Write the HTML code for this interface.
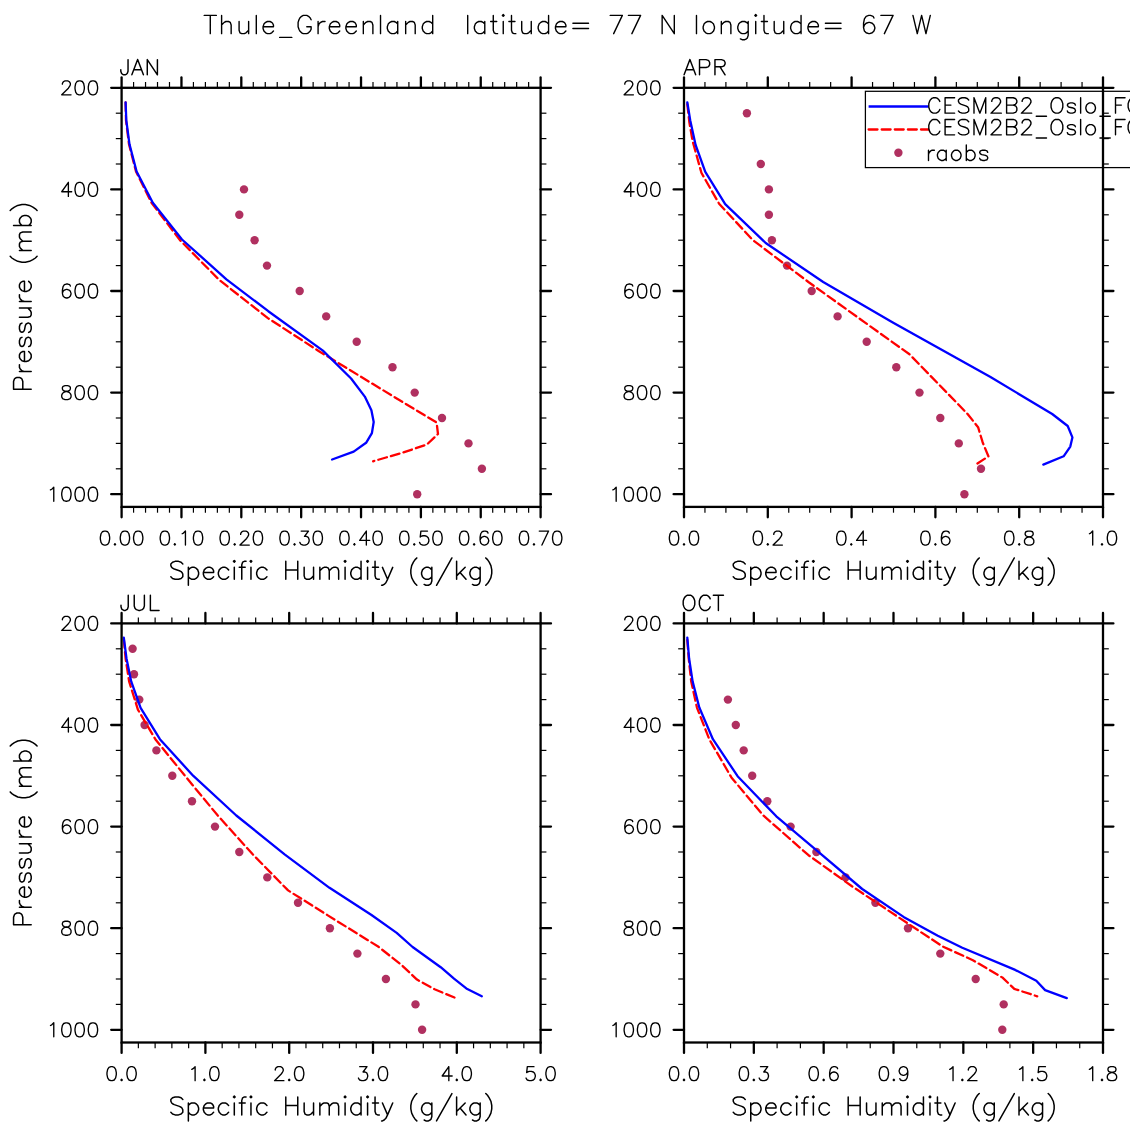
<!DOCTYPE html>
<html><head><meta charset="utf-8"><title>Thule Greenland specific humidity</title>
<style>html,body{margin:0;padding:0;background:#fff;font-family:"Liberation Sans",sans-serif}svg{display:block}</style>
</head><body>
<svg width="1135" height="1135" viewBox="0 0 1135 1135">
<defs><clipPath id="cl"><rect x="0" y="0" width="1130" height="1135"/></clipPath></defs>
<rect width="1135" height="1135" fill="#fff"/>
<g clip-path="url(#cl)">
<path d="M210.28 15.42 L210.28 33.65 M204.2 15.42 L216.35 15.42 M221.61 15.42 L221.61 33.65 M221.61 24.97 L224.21 22.37 L225.95 21.5 L228.55 21.5 L230.29 22.37 L231.16 24.97 L231.16 33.65 M239.09 21.5 L239.09 30.18 L239.96 32.78 L241.7 33.65 L244.3 33.65 L246.04 32.78 L248.64 30.18 M248.64 21.5 L248.64 33.65 M256.29 15.42 L256.29 33.65 M263.05 26.71 L273.46 26.71 L273.46 24.97 L272.59 23.23 L271.73 22.37 L269.99 21.5 L267.39 21.5 L265.65 22.37 L263.91 24.1 L263.05 26.71 L263.05 28.44 L263.91 31.05 L265.65 32.78 L267.39 33.65 L269.99 33.65 L271.73 32.78 L273.46 31.05 M279.66 37.38 L291.82 37.38 M311.12 19.76 L310.25 18.03 L308.51 16.29 L306.78 15.42 L303.3 15.42 L301.57 16.29 L299.83 18.03 L298.96 19.76 L298.1 22.37 L298.1 26.71 L298.96 29.31 L299.83 31.05 L301.57 32.78 L303.3 33.65 L306.78 33.65 L308.51 32.78 L310.25 31.05 L311.12 29.31 L311.12 26.71 M306.78 26.71 L311.12 26.71 M318.08 21.5 L318.08 33.65 M318.08 26.71 L318.95 24.1 L320.69 22.37 L322.42 21.5 L325.03 21.5 M329.31 26.71 L339.72 26.71 L339.72 24.97 L338.86 23.23 L337.99 22.37 L336.25 21.5 L333.65 21.5 L331.91 22.37 L330.18 24.1 L329.31 26.71 L329.31 28.44 L330.18 31.05 L331.91 32.78 L333.65 33.65 L336.25 33.65 L337.99 32.78 L339.72 31.05 M345.87 26.71 L356.29 26.71 L356.29 24.97 L355.42 23.23 L354.55 22.37 L352.82 21.5 L350.21 21.5 L348.48 22.37 L346.74 24.1 L345.87 26.71 L345.87 28.44 L346.74 31.05 L348.48 32.78 L350.21 33.65 L352.82 33.65 L354.55 32.78 L356.29 31.05 M363.33 21.5 L363.33 33.65 M363.33 24.97 L365.94 22.37 L367.67 21.5 L370.28 21.5 L372.01 22.37 L372.88 24.97 L372.88 33.65 M380.53 15.42 L380.53 33.65 M397.73 21.5 L397.73 33.65 M397.73 24.1 L395.99 22.37 L394.26 21.5 L391.65 21.5 L389.92 22.37 L388.18 24.1 L387.31 26.71 L387.31 28.44 L388.18 31.05 L389.92 32.78 L391.65 33.65 L394.26 33.65 L395.99 32.78 L397.73 31.05 M405.67 21.5 L405.67 33.65 M405.67 24.97 L408.27 22.37 L410.01 21.5 L412.61 21.5 L414.35 22.37 L415.21 24.97 L415.21 33.65 M432.7 15.42 L432.7 33.65 M432.7 24.1 L430.96 22.37 L429.23 21.5 L426.62 21.5 L424.89 22.37 L423.15 24.1 L422.28 26.71 L422.28 28.44 L423.15 31.05 L424.89 32.78 L426.62 33.65 L429.23 33.65 L430.96 32.78 L432.7 31.05" fill="none" stroke="#000" stroke-width="1.4" stroke-linecap="round" stroke-linejoin="round"/>
<path d="M467.7 15.42 L467.7 33.65 M484.78 21.5 L484.78 33.65 M484.78 24.1 L483.04 22.37 L481.31 21.5 L478.7 21.5 L476.97 22.37 L475.23 24.1 L474.36 26.71 L474.36 28.44 L475.23 31.05 L476.97 32.78 L478.7 33.65 L481.31 33.65 L483.04 32.78 L484.78 31.05 M493.27 15.42 L493.27 30.18 L494.13 32.78 L495.87 33.65 L497.61 33.65 M490.66 21.5 L496.74 21.5 M502.38 15.42 L503.25 16.29 L504.12 15.42 L503.25 14.55 L502.38 15.42 M503.25 21.5 L503.25 33.65 M511.49 15.42 L511.49 30.18 L512.36 32.78 L514.1 33.65 L515.83 33.65 M508.89 21.5 L514.97 21.5 M521.72 21.5 L521.72 30.18 L522.58 32.78 L524.32 33.65 L526.92 33.65 L528.66 32.78 L531.26 30.18 M531.26 21.5 L531.26 33.65 M548.58 15.42 L548.58 33.65 M548.58 24.1 L546.85 22.37 L545.11 21.5 L542.51 21.5 L540.77 22.37 L539.04 24.1 L538.17 26.71 L538.17 28.44 L539.04 31.05 L540.77 32.78 L542.51 33.65 L545.11 33.65 L546.85 32.78 L548.58 31.05 M555.46 26.71 L565.88 26.71 L565.88 24.97 L565.01 23.23 L564.14 22.37 L562.41 21.5 L559.8 21.5 L558.07 22.37 L556.33 24.1 L555.46 26.71 L555.46 28.44 L556.33 31.05 L558.07 32.78 L559.8 33.65 L562.41 33.65 L564.14 32.78 L565.88 31.05 M572.91 23.23 L588.54 23.23 M572.91 28.44 L588.54 28.44 M622.35 15.42 L613.67 33.65 M610.2 15.42 L622.35 15.42 M640.58 15.42 L631.9 33.65 M628.43 15.42 L640.58 15.42 M662.15 15.42 L662.15 33.65 M662.15 15.42 L674.3 33.65 M674.3 15.42 L674.3 33.65 M696.48 15.42 L696.48 33.65 M707.49 21.5 L705.75 22.37 L704.01 24.1 L703.15 26.71 L703.15 28.44 L704.01 31.05 L705.75 32.78 L707.49 33.65 L710.09 33.65 L711.83 32.78 L713.56 31.05 L714.43 28.44 L714.43 26.71 L713.56 24.1 L711.83 22.37 L710.09 21.5 L707.49 21.5 M721.33 21.5 L721.33 33.65 M721.33 24.97 L723.94 22.37 L725.67 21.5 L728.28 21.5 L730.01 22.37 L730.88 24.97 L730.88 33.65 M748.2 21.5 L748.2 35.39 L747.33 37.99 L746.46 38.86 L744.73 39.73 L742.12 39.73 L740.39 38.86 M748.2 24.1 L746.46 22.37 L744.73 21.5 L742.12 21.5 L740.39 22.37 L738.65 24.1 L737.78 26.71 L737.78 28.44 L738.65 31.05 L740.39 32.78 L742.12 33.65 L744.73 33.65 L746.46 32.78 L748.2 31.05 M754.86 15.42 L755.73 16.29 L756.6 15.42 L755.73 14.55 L754.86 15.42 M755.73 21.5 L755.73 33.65 M763.98 15.42 L763.98 30.18 L764.84 32.78 L766.58 33.65 L768.32 33.65 M761.37 21.5 L767.45 21.5 M774.2 21.5 L774.2 30.18 L775.07 32.78 L776.8 33.65 L779.41 33.65 L781.14 32.78 L783.75 30.18 M783.75 21.5 L783.75 33.65 M801.06 15.42 L801.06 33.65 M801.06 24.1 L799.33 22.37 L797.59 21.5 L794.99 21.5 L793.25 22.37 L791.52 24.1 L790.65 26.71 L790.65 28.44 L791.52 31.05 L793.25 32.78 L794.99 33.65 L797.59 33.65 L799.33 32.78 L801.06 31.05 M807.95 26.71 L818.36 26.71 L818.36 24.97 L817.49 23.23 L816.63 22.37 L814.89 21.5 L812.29 21.5 L810.55 22.37 L808.81 24.1 L807.95 26.71 L807.95 28.44 L808.81 31.05 L810.55 32.78 L812.29 33.65 L814.89 33.65 L816.63 32.78 L818.36 31.05 M825.39 23.23 L841.02 23.23 M825.39 28.44 L841.02 28.44 M873.96 18.03 L873.09 16.29 L870.49 15.42 L868.75 15.42 L866.15 16.29 L864.41 18.89 L863.55 23.23 L863.55 27.57 L864.41 31.05 L866.15 32.78 L868.75 33.65 L869.62 33.65 L872.23 32.78 L873.96 31.05 L874.83 28.44 L874.83 27.57 L873.96 24.97 L872.23 23.23 L869.62 22.37 L868.75 22.37 L866.15 23.23 L864.41 24.97 L863.55 27.57 M893.06 15.42 L884.38 33.65 M880.91 15.42 L893.06 15.42 M912.94 15.42 L917.28 33.65 M921.62 15.42 L917.28 33.65 M921.62 15.42 L925.96 33.65 M930.3 15.42 L925.96 33.65" fill="none" stroke="#000" stroke-width="1.4" stroke-linecap="round" stroke-linejoin="round"/>
<circle cx="244" cy="189.4" r="4.2" fill="#b03060"/>
<circle cx="239.3" cy="214.8" r="4.2" fill="#b03060"/>
<circle cx="254.6" cy="240.2" r="4.2" fill="#b03060"/>
<circle cx="267" cy="265.6" r="4.2" fill="#b03060"/>
<circle cx="299.7" cy="291" r="4.2" fill="#b03060"/>
<circle cx="326.2" cy="316.4" r="4.2" fill="#b03060"/>
<circle cx="356.7" cy="341.8" r="4.2" fill="#b03060"/>
<circle cx="392.5" cy="367.2" r="4.2" fill="#b03060"/>
<circle cx="414.7" cy="392.6" r="4.2" fill="#b03060"/>
<circle cx="442" cy="418" r="4.2" fill="#b03060"/>
<circle cx="468.5" cy="443.4" r="4.2" fill="#b03060"/>
<circle cx="481.9" cy="468.8" r="4.2" fill="#b03060"/>
<circle cx="417.2" cy="494.2" r="4.2" fill="#b03060"/>
<polyline points="125.6,102.4 126,120.3 129,144.3 136,171.5 151.5,202.8 180.3,240.5 219.3,280 267.9,318.1 319,351.2 363.8,378.5 393.7,396.6 416.1,410.2 436.6,422.5 438,434 426.9,444.5 403.1,452.5 373.1,461.3" fill="none" stroke="#f00" stroke-width="2.3" stroke-dasharray="8.9 4.2" stroke-linecap="round" stroke-linejoin="round"/>
<polyline points="125.6,102.4 126.3,120.3 129.5,144.3 136.6,171.5 152.8,202.8 182,239.5 226.4,279.3 268.3,311.2 322.9,350.6 351.1,378.5 364.8,396.6 371.4,410.2 373.7,422 371.9,433.1 366.1,442.8 353.7,451.6 332.1,459.5" fill="none" stroke="#00f" stroke-width="2.3" stroke-linecap="round" stroke-linejoin="round"/>
<rect x="121.6" y="87.8" width="419" height="419.1" fill="none" stroke="#000" stroke-width="2.3"/>
<line x1="111.2" y1="87.8" x2="121.6" y2="87.8" stroke="#000" stroke-width="2.3" stroke-linecap="round"/>
<line x1="540.6" y1="87.8" x2="551" y2="87.8" stroke="#000" stroke-width="2.3" stroke-linecap="round"/>
<path d="M62.39 84.16 L62.39 83.5 L63.06 82.16 L63.72 81.5 L65.05 80.83 L67.71 80.83 L69.04 81.5 L69.71 82.16 L70.37 83.5 L70.37 84.82 L69.71 86.16 L68.38 88.15 L61.73 94.8 L71.04 94.8 M79 80.83 L77 81.5 L75.67 83.5 L75.01 86.82 L75.01 88.81 L75.67 92.14 L77 94.13 L79 94.8 L80.33 94.8 L82.32 94.13 L83.66 92.14 L84.32 88.81 L84.32 86.82 L83.66 83.5 L82.32 81.5 L80.33 80.83 L79 80.83 M92.28 80.83 L90.28 81.5 L88.95 83.5 L88.29 86.82 L88.29 88.81 L88.95 92.14 L90.28 94.13 L92.28 94.8 L93.61 94.8 L95.6 94.13 L96.94 92.14 L97.6 88.81 L97.6 86.82 L96.94 83.5 L95.6 81.5 L93.61 80.83 L92.28 80.83" fill="none" stroke="#000" stroke-width="1.35" stroke-linecap="round" stroke-linejoin="round"/>
<line x1="115.8" y1="113.2" x2="121.6" y2="113.2" stroke="#000" stroke-width="1.2" stroke-linecap="butt"/>
<line x1="540.6" y1="113.2" x2="546.4" y2="113.2" stroke="#000" stroke-width="1.2" stroke-linecap="butt"/>
<line x1="115.8" y1="138.6" x2="121.6" y2="138.6" stroke="#000" stroke-width="1.2" stroke-linecap="butt"/>
<line x1="540.6" y1="138.6" x2="546.4" y2="138.6" stroke="#000" stroke-width="1.2" stroke-linecap="butt"/>
<line x1="115.8" y1="164" x2="121.6" y2="164" stroke="#000" stroke-width="1.2" stroke-linecap="butt"/>
<line x1="540.6" y1="164" x2="546.4" y2="164" stroke="#000" stroke-width="1.2" stroke-linecap="butt"/>
<line x1="111.2" y1="189.4" x2="121.6" y2="189.4" stroke="#000" stroke-width="2.3" stroke-linecap="round"/>
<line x1="540.6" y1="189.4" x2="551" y2="189.4" stroke="#000" stroke-width="2.3" stroke-linecap="round"/>
<path d="M68.38 182.43 L61.73 191.74 L71.7 191.74 M68.38 182.43 L68.38 196.4 M79 182.43 L77 183.1 L75.67 185.09 L75.01 188.42 L75.01 190.41 L75.67 193.74 L77 195.73 L79 196.4 L80.33 196.4 L82.32 195.73 L83.66 193.74 L84.32 190.41 L84.32 188.42 L83.66 185.09 L82.32 183.1 L80.33 182.43 L79 182.43 M92.28 182.43 L90.28 183.1 L88.95 185.09 L88.29 188.42 L88.29 190.41 L88.95 193.74 L90.28 195.73 L92.28 196.4 L93.61 196.4 L95.6 195.73 L96.94 193.74 L97.6 190.41 L97.6 188.42 L96.94 185.09 L95.6 183.1 L93.61 182.43 L92.28 182.43" fill="none" stroke="#000" stroke-width="1.35" stroke-linecap="round" stroke-linejoin="round"/>
<line x1="115.8" y1="214.8" x2="121.6" y2="214.8" stroke="#000" stroke-width="1.2" stroke-linecap="butt"/>
<line x1="540.6" y1="214.8" x2="546.4" y2="214.8" stroke="#000" stroke-width="1.2" stroke-linecap="butt"/>
<line x1="115.8" y1="240.2" x2="121.6" y2="240.2" stroke="#000" stroke-width="1.2" stroke-linecap="butt"/>
<line x1="540.6" y1="240.2" x2="546.4" y2="240.2" stroke="#000" stroke-width="1.2" stroke-linecap="butt"/>
<line x1="115.8" y1="265.6" x2="121.6" y2="265.6" stroke="#000" stroke-width="1.2" stroke-linecap="butt"/>
<line x1="540.6" y1="265.6" x2="546.4" y2="265.6" stroke="#000" stroke-width="1.2" stroke-linecap="butt"/>
<line x1="111.2" y1="291" x2="121.6" y2="291" stroke="#000" stroke-width="2.3" stroke-linecap="round"/>
<line x1="540.6" y1="291" x2="551" y2="291" stroke="#000" stroke-width="2.3" stroke-linecap="round"/>
<path d="M70.37 286.03 L69.71 284.7 L67.71 284.04 L66.38 284.04 L64.39 284.7 L63.06 286.69 L62.39 290.02 L62.39 293.35 L63.06 296 L64.39 297.33 L66.38 298 L67.05 298 L69.04 297.33 L70.37 296 L71.04 294.01 L71.04 293.35 L70.37 291.35 L69.04 290.02 L67.05 289.36 L66.38 289.36 L64.39 290.02 L63.06 291.35 L62.39 293.35 M79 284.04 L77 284.7 L75.67 286.69 L75.01 290.02 L75.01 292.01 L75.67 295.34 L77 297.33 L79 298 L80.33 298 L82.32 297.33 L83.66 295.34 L84.32 292.01 L84.32 290.02 L83.66 286.69 L82.32 284.7 L80.33 284.04 L79 284.04 M92.28 284.04 L90.28 284.7 L88.95 286.69 L88.29 290.02 L88.29 292.01 L88.95 295.34 L90.28 297.33 L92.28 298 L93.61 298 L95.6 297.33 L96.94 295.34 L97.6 292.01 L97.6 290.02 L96.94 286.69 L95.6 284.7 L93.61 284.04 L92.28 284.04" fill="none" stroke="#000" stroke-width="1.35" stroke-linecap="round" stroke-linejoin="round"/>
<line x1="115.8" y1="316.4" x2="121.6" y2="316.4" stroke="#000" stroke-width="1.2" stroke-linecap="butt"/>
<line x1="540.6" y1="316.4" x2="546.4" y2="316.4" stroke="#000" stroke-width="1.2" stroke-linecap="butt"/>
<line x1="115.8" y1="341.8" x2="121.6" y2="341.8" stroke="#000" stroke-width="1.2" stroke-linecap="butt"/>
<line x1="540.6" y1="341.8" x2="546.4" y2="341.8" stroke="#000" stroke-width="1.2" stroke-linecap="butt"/>
<line x1="115.8" y1="367.2" x2="121.6" y2="367.2" stroke="#000" stroke-width="1.2" stroke-linecap="butt"/>
<line x1="540.6" y1="367.2" x2="546.4" y2="367.2" stroke="#000" stroke-width="1.2" stroke-linecap="butt"/>
<line x1="111.2" y1="392.6" x2="121.6" y2="392.6" stroke="#000" stroke-width="2.3" stroke-linecap="round"/>
<line x1="540.6" y1="392.6" x2="551" y2="392.6" stroke="#000" stroke-width="2.3" stroke-linecap="round"/>
<path d="M65.05 385.64 L63.06 386.3 L62.39 387.63 L62.39 388.96 L63.06 390.29 L64.39 390.96 L67.05 391.62 L69.04 392.29 L70.37 393.62 L71.04 394.95 L71.04 396.94 L70.37 398.27 L69.71 398.94 L67.71 399.6 L65.05 399.6 L63.06 398.94 L62.39 398.27 L61.73 396.94 L61.73 394.95 L62.39 393.62 L63.72 392.29 L65.72 391.62 L68.38 390.96 L69.71 390.29 L70.37 388.96 L70.37 387.63 L69.71 386.3 L67.71 385.64 L65.05 385.64 M79 385.64 L77 386.3 L75.67 388.3 L75.01 391.62 L75.01 393.62 L75.67 396.94 L77 398.94 L79 399.6 L80.33 399.6 L82.32 398.94 L83.66 396.94 L84.32 393.62 L84.32 391.62 L83.66 388.3 L82.32 386.3 L80.33 385.64 L79 385.64 M92.28 385.64 L90.28 386.3 L88.95 388.3 L88.29 391.62 L88.29 393.62 L88.95 396.94 L90.28 398.94 L92.28 399.6 L93.61 399.6 L95.6 398.94 L96.94 396.94 L97.6 393.62 L97.6 391.62 L96.94 388.3 L95.6 386.3 L93.61 385.64 L92.28 385.64" fill="none" stroke="#000" stroke-width="1.35" stroke-linecap="round" stroke-linejoin="round"/>
<line x1="115.8" y1="418" x2="121.6" y2="418" stroke="#000" stroke-width="1.2" stroke-linecap="butt"/>
<line x1="540.6" y1="418" x2="546.4" y2="418" stroke="#000" stroke-width="1.2" stroke-linecap="butt"/>
<line x1="115.8" y1="443.4" x2="121.6" y2="443.4" stroke="#000" stroke-width="1.2" stroke-linecap="butt"/>
<line x1="540.6" y1="443.4" x2="546.4" y2="443.4" stroke="#000" stroke-width="1.2" stroke-linecap="butt"/>
<line x1="115.8" y1="468.8" x2="121.6" y2="468.8" stroke="#000" stroke-width="1.2" stroke-linecap="butt"/>
<line x1="540.6" y1="468.8" x2="546.4" y2="468.8" stroke="#000" stroke-width="1.2" stroke-linecap="butt"/>
<line x1="111.2" y1="494.2" x2="121.6" y2="494.2" stroke="#000" stroke-width="2.3" stroke-linecap="round"/>
<line x1="540.6" y1="494.2" x2="551" y2="494.2" stroke="#000" stroke-width="2.3" stroke-linecap="round"/>
<path d="M50.44 489.89 L51.77 489.23 L53.77 487.24 L53.77 501.2 M65.72 487.24 L63.72 487.9 L62.39 489.89 L61.73 493.22 L61.73 495.21 L62.39 498.54 L63.72 500.53 L65.72 501.2 L67.05 501.2 L69.04 500.53 L70.38 498.54 L71.04 495.21 L71.04 493.22 L70.38 489.89 L69.04 487.9 L67.05 487.24 L65.72 487.24 M79 487.24 L77 487.9 L75.67 489.89 L75.01 493.22 L75.01 495.21 L75.67 498.54 L77 500.53 L79 501.2 L80.33 501.2 L82.32 500.53 L83.66 498.54 L84.32 495.21 L84.32 493.22 L83.66 489.89 L82.32 487.9 L80.33 487.24 L79 487.24 M92.28 487.24 L90.28 487.9 L88.95 489.89 L88.29 493.22 L88.29 495.21 L88.95 498.54 L90.28 500.53 L92.28 501.2 L93.61 501.2 L95.6 500.53 L96.94 498.54 L97.6 495.21 L97.6 493.22 L96.94 489.89 L95.6 487.9 L93.61 487.24 L92.28 487.24" fill="none" stroke="#000" stroke-width="1.35" stroke-linecap="round" stroke-linejoin="round"/>
<line x1="121.6" y1="77.4" x2="121.6" y2="87.8" stroke="#000" stroke-width="2.3" stroke-linecap="round"/>
<line x1="121.6" y1="506.9" x2="121.6" y2="517.3" stroke="#000" stroke-width="2.3" stroke-linecap="round"/>
<path d="M104.33 531.08 L102.34 531.75 L101.01 533.75 L100.34 537.07 L100.34 539.06 L101.01 542.39 L102.34 544.38 L104.33 545.05 L105.66 545.05 L107.66 544.38 L108.99 542.39 L109.65 539.06 L109.65 537.07 L108.99 533.75 L107.66 531.75 L105.66 531.08 L104.33 531.08 M114.96 543.72 L114.29 544.38 L114.96 545.05 L115.62 544.38 L114.96 543.72 M124.25 531.08 L122.26 531.75 L120.93 533.75 L120.26 537.07 L120.26 539.06 L120.93 542.39 L122.26 544.38 L124.25 545.05 L125.58 545.05 L127.58 544.38 L128.91 542.39 L129.57 539.06 L129.57 537.07 L128.91 533.75 L127.58 531.75 L125.58 531.08 L124.25 531.08 M137.53 531.08 L135.54 531.75 L134.21 533.75 L133.54 537.07 L133.54 539.06 L134.21 542.39 L135.54 544.38 L137.53 545.05 L138.86 545.05 L140.86 544.38 L142.19 542.39 L142.85 539.06 L142.85 537.07 L142.19 533.75 L140.86 531.75 L138.86 531.08 L137.53 531.08" fill="none" stroke="#000" stroke-width="1.35" stroke-linecap="round" stroke-linejoin="round"/>
<line x1="133.57" y1="82" x2="133.57" y2="87.8" stroke="#000" stroke-width="1.2" stroke-linecap="butt"/>
<line x1="133.57" y1="506.9" x2="133.57" y2="512.7" stroke="#000" stroke-width="1.2" stroke-linecap="butt"/>
<line x1="145.54" y1="82" x2="145.54" y2="87.8" stroke="#000" stroke-width="1.2" stroke-linecap="butt"/>
<line x1="145.54" y1="506.9" x2="145.54" y2="512.7" stroke="#000" stroke-width="1.2" stroke-linecap="butt"/>
<line x1="157.51" y1="82" x2="157.51" y2="87.8" stroke="#000" stroke-width="1.2" stroke-linecap="butt"/>
<line x1="157.51" y1="506.9" x2="157.51" y2="512.7" stroke="#000" stroke-width="1.2" stroke-linecap="butt"/>
<line x1="169.49" y1="82" x2="169.49" y2="87.8" stroke="#000" stroke-width="1.2" stroke-linecap="butt"/>
<line x1="169.49" y1="506.9" x2="169.49" y2="512.7" stroke="#000" stroke-width="1.2" stroke-linecap="butt"/>
<line x1="181.46" y1="77.4" x2="181.46" y2="87.8" stroke="#000" stroke-width="2.3" stroke-linecap="round"/>
<line x1="181.46" y1="506.9" x2="181.46" y2="517.3" stroke="#000" stroke-width="2.3" stroke-linecap="round"/>
<path d="M164.19 531.08 L162.2 531.75 L160.87 533.75 L160.2 537.07 L160.2 539.06 L160.87 542.39 L162.2 544.38 L164.19 545.05 L165.52 545.05 L167.52 544.38 L168.85 542.39 L169.51 539.06 L169.51 537.07 L168.85 533.75 L167.52 531.75 L165.52 531.08 L164.19 531.08 M174.82 543.72 L174.15 544.38 L174.82 545.05 L175.48 544.38 L174.82 543.72 M182.12 533.75 L183.45 533.08 L185.44 531.08 L185.44 545.05 M197.39 531.08 L195.4 531.75 L194.07 533.75 L193.4 537.07 L193.4 539.06 L194.07 542.39 L195.4 544.38 L197.39 545.05 L198.72 545.05 L200.72 544.38 L202.05 542.39 L202.71 539.06 L202.71 537.07 L202.05 533.75 L200.72 531.75 L198.72 531.08 L197.39 531.08" fill="none" stroke="#000" stroke-width="1.35" stroke-linecap="round" stroke-linejoin="round"/>
<line x1="193.43" y1="82" x2="193.43" y2="87.8" stroke="#000" stroke-width="1.2" stroke-linecap="butt"/>
<line x1="193.43" y1="506.9" x2="193.43" y2="512.7" stroke="#000" stroke-width="1.2" stroke-linecap="butt"/>
<line x1="205.4" y1="82" x2="205.4" y2="87.8" stroke="#000" stroke-width="1.2" stroke-linecap="butt"/>
<line x1="205.4" y1="506.9" x2="205.4" y2="512.7" stroke="#000" stroke-width="1.2" stroke-linecap="butt"/>
<line x1="217.37" y1="82" x2="217.37" y2="87.8" stroke="#000" stroke-width="1.2" stroke-linecap="butt"/>
<line x1="217.37" y1="506.9" x2="217.37" y2="512.7" stroke="#000" stroke-width="1.2" stroke-linecap="butt"/>
<line x1="229.34" y1="82" x2="229.34" y2="87.8" stroke="#000" stroke-width="1.2" stroke-linecap="butt"/>
<line x1="229.34" y1="506.9" x2="229.34" y2="512.7" stroke="#000" stroke-width="1.2" stroke-linecap="butt"/>
<line x1="241.31" y1="77.4" x2="241.31" y2="87.8" stroke="#000" stroke-width="2.3" stroke-linecap="round"/>
<line x1="241.31" y1="506.9" x2="241.31" y2="517.3" stroke="#000" stroke-width="2.3" stroke-linecap="round"/>
<path d="M224.05 531.08 L222.05 531.75 L220.72 533.75 L220.06 537.07 L220.06 539.06 L220.72 542.39 L222.05 544.38 L224.05 545.05 L225.38 545.05 L227.37 544.38 L228.7 542.39 L229.37 539.06 L229.37 537.07 L228.7 533.75 L227.37 531.75 L225.38 531.08 L224.05 531.08 M234.67 543.72 L234.01 544.38 L234.67 545.05 L235.34 544.38 L234.67 543.72 M240.64 534.41 L240.64 533.75 L241.31 532.41 L241.97 531.75 L243.3 531.08 L245.96 531.08 L247.29 531.75 L247.96 532.41 L248.62 533.75 L248.62 535.07 L247.96 536.4 L246.63 538.4 L239.98 545.05 L249.29 545.05 M257.25 531.08 L255.25 531.75 L253.92 533.75 L253.26 537.07 L253.26 539.06 L253.92 542.39 L255.25 544.38 L257.25 545.05 L258.58 545.05 L260.57 544.38 L261.9 542.39 L262.57 539.06 L262.57 537.07 L261.9 533.75 L260.57 531.75 L258.58 531.08 L257.25 531.08" fill="none" stroke="#000" stroke-width="1.35" stroke-linecap="round" stroke-linejoin="round"/>
<line x1="253.29" y1="82" x2="253.29" y2="87.8" stroke="#000" stroke-width="1.2" stroke-linecap="butt"/>
<line x1="253.29" y1="506.9" x2="253.29" y2="512.7" stroke="#000" stroke-width="1.2" stroke-linecap="butt"/>
<line x1="265.26" y1="82" x2="265.26" y2="87.8" stroke="#000" stroke-width="1.2" stroke-linecap="butt"/>
<line x1="265.26" y1="506.9" x2="265.26" y2="512.7" stroke="#000" stroke-width="1.2" stroke-linecap="butt"/>
<line x1="277.23" y1="82" x2="277.23" y2="87.8" stroke="#000" stroke-width="1.2" stroke-linecap="butt"/>
<line x1="277.23" y1="506.9" x2="277.23" y2="512.7" stroke="#000" stroke-width="1.2" stroke-linecap="butt"/>
<line x1="289.2" y1="82" x2="289.2" y2="87.8" stroke="#000" stroke-width="1.2" stroke-linecap="butt"/>
<line x1="289.2" y1="506.9" x2="289.2" y2="512.7" stroke="#000" stroke-width="1.2" stroke-linecap="butt"/>
<line x1="301.17" y1="77.4" x2="301.17" y2="87.8" stroke="#000" stroke-width="2.3" stroke-linecap="round"/>
<line x1="301.17" y1="506.9" x2="301.17" y2="517.3" stroke="#000" stroke-width="2.3" stroke-linecap="round"/>
<path d="M283.91 531.08 L281.91 531.75 L280.58 533.75 L279.92 537.07 L279.92 539.06 L280.58 542.39 L281.91 544.38 L283.91 545.05 L285.24 545.05 L287.23 544.38 L288.56 542.39 L289.23 539.06 L289.23 537.07 L288.56 533.75 L287.23 531.75 L285.24 531.08 L283.91 531.08 M294.53 543.72 L293.87 544.38 L294.53 545.05 L295.2 544.38 L294.53 543.72 M301.17 531.08 L308.48 531.08 L304.49 536.4 L306.49 536.4 L307.82 537.07 L308.48 537.73 L309.15 539.73 L309.15 541.06 L308.48 543.05 L307.15 544.38 L305.16 545.05 L303.16 545.05 L301.17 544.38 L300.5 543.72 L299.84 542.39 M317.11 531.08 L315.11 531.75 L313.78 533.75 L313.12 537.07 L313.12 539.06 L313.78 542.39 L315.11 544.38 L317.11 545.05 L318.44 545.05 L320.43 544.38 L321.76 542.39 L322.43 539.06 L322.43 537.07 L321.76 533.75 L320.43 531.75 L318.44 531.08 L317.11 531.08" fill="none" stroke="#000" stroke-width="1.35" stroke-linecap="round" stroke-linejoin="round"/>
<line x1="313.14" y1="82" x2="313.14" y2="87.8" stroke="#000" stroke-width="1.2" stroke-linecap="butt"/>
<line x1="313.14" y1="506.9" x2="313.14" y2="512.7" stroke="#000" stroke-width="1.2" stroke-linecap="butt"/>
<line x1="325.11" y1="82" x2="325.11" y2="87.8" stroke="#000" stroke-width="1.2" stroke-linecap="butt"/>
<line x1="325.11" y1="506.9" x2="325.11" y2="512.7" stroke="#000" stroke-width="1.2" stroke-linecap="butt"/>
<line x1="337.09" y1="82" x2="337.09" y2="87.8" stroke="#000" stroke-width="1.2" stroke-linecap="butt"/>
<line x1="337.09" y1="506.9" x2="337.09" y2="512.7" stroke="#000" stroke-width="1.2" stroke-linecap="butt"/>
<line x1="349.06" y1="82" x2="349.06" y2="87.8" stroke="#000" stroke-width="1.2" stroke-linecap="butt"/>
<line x1="349.06" y1="506.9" x2="349.06" y2="512.7" stroke="#000" stroke-width="1.2" stroke-linecap="butt"/>
<line x1="361.03" y1="77.4" x2="361.03" y2="87.8" stroke="#000" stroke-width="2.3" stroke-linecap="round"/>
<line x1="361.03" y1="506.9" x2="361.03" y2="517.3" stroke="#000" stroke-width="2.3" stroke-linecap="round"/>
<path d="M343.76 531.08 L341.77 531.75 L340.44 533.75 L339.77 537.07 L339.77 539.06 L340.44 542.39 L341.77 544.38 L343.76 545.05 L345.09 545.05 L347.09 544.38 L348.42 542.39 L349.08 539.06 L349.08 537.07 L348.42 533.75 L347.09 531.75 L345.09 531.08 L343.76 531.08 M354.39 543.72 L353.72 544.38 L354.39 545.05 L355.05 544.38 L354.39 543.72 M366.34 531.08 L359.69 540.39 L369.67 540.39 M366.34 531.08 L366.34 545.05 M376.96 531.08 L374.97 531.75 L373.64 533.75 L372.97 537.07 L372.97 539.06 L373.64 542.39 L374.97 544.38 L376.96 545.05 L378.29 545.05 L380.29 544.38 L381.62 542.39 L382.28 539.06 L382.28 537.07 L381.62 533.75 L380.29 531.75 L378.29 531.08 L376.96 531.08" fill="none" stroke="#000" stroke-width="1.35" stroke-linecap="round" stroke-linejoin="round"/>
<line x1="373" y1="82" x2="373" y2="87.8" stroke="#000" stroke-width="1.2" stroke-linecap="butt"/>
<line x1="373" y1="506.9" x2="373" y2="512.7" stroke="#000" stroke-width="1.2" stroke-linecap="butt"/>
<line x1="384.97" y1="82" x2="384.97" y2="87.8" stroke="#000" stroke-width="1.2" stroke-linecap="butt"/>
<line x1="384.97" y1="506.9" x2="384.97" y2="512.7" stroke="#000" stroke-width="1.2" stroke-linecap="butt"/>
<line x1="396.94" y1="82" x2="396.94" y2="87.8" stroke="#000" stroke-width="1.2" stroke-linecap="butt"/>
<line x1="396.94" y1="506.9" x2="396.94" y2="512.7" stroke="#000" stroke-width="1.2" stroke-linecap="butt"/>
<line x1="408.91" y1="82" x2="408.91" y2="87.8" stroke="#000" stroke-width="1.2" stroke-linecap="butt"/>
<line x1="408.91" y1="506.9" x2="408.91" y2="512.7" stroke="#000" stroke-width="1.2" stroke-linecap="butt"/>
<line x1="420.89" y1="77.4" x2="420.89" y2="87.8" stroke="#000" stroke-width="2.3" stroke-linecap="round"/>
<line x1="420.89" y1="506.9" x2="420.89" y2="517.3" stroke="#000" stroke-width="2.3" stroke-linecap="round"/>
<path d="M403.62 531.08 L401.63 531.75 L400.3 533.75 L399.63 537.07 L399.63 539.06 L400.3 542.39 L401.63 544.38 L403.62 545.05 L404.95 545.05 L406.95 544.38 L408.28 542.39 L408.94 539.06 L408.94 537.07 L408.28 533.75 L406.95 531.75 L404.95 531.08 L403.62 531.08 M414.25 543.72 L413.58 544.38 L414.25 545.05 L414.91 544.38 L414.25 543.72 M427.53 531.08 L420.88 531.08 L420.22 537.07 L420.88 536.4 L422.88 535.74 L424.87 535.74 L426.87 536.4 L428.2 537.73 L428.86 539.73 L428.86 541.06 L428.2 543.05 L426.87 544.38 L424.87 545.05 L422.88 545.05 L420.88 544.38 L420.22 543.72 L419.55 542.39 M436.82 531.08 L434.83 531.75 L433.5 533.75 L432.83 537.07 L432.83 539.06 L433.5 542.39 L434.83 544.38 L436.82 545.05 L438.15 545.05 L440.15 544.38 L441.48 542.39 L442.14 539.06 L442.14 537.07 L441.48 533.75 L440.15 531.75 L438.15 531.08 L436.82 531.08" fill="none" stroke="#000" stroke-width="1.35" stroke-linecap="round" stroke-linejoin="round"/>
<line x1="432.86" y1="82" x2="432.86" y2="87.8" stroke="#000" stroke-width="1.2" stroke-linecap="butt"/>
<line x1="432.86" y1="506.9" x2="432.86" y2="512.7" stroke="#000" stroke-width="1.2" stroke-linecap="butt"/>
<line x1="444.83" y1="82" x2="444.83" y2="87.8" stroke="#000" stroke-width="1.2" stroke-linecap="butt"/>
<line x1="444.83" y1="506.9" x2="444.83" y2="512.7" stroke="#000" stroke-width="1.2" stroke-linecap="butt"/>
<line x1="456.8" y1="82" x2="456.8" y2="87.8" stroke="#000" stroke-width="1.2" stroke-linecap="butt"/>
<line x1="456.8" y1="506.9" x2="456.8" y2="512.7" stroke="#000" stroke-width="1.2" stroke-linecap="butt"/>
<line x1="468.77" y1="82" x2="468.77" y2="87.8" stroke="#000" stroke-width="1.2" stroke-linecap="butt"/>
<line x1="468.77" y1="506.9" x2="468.77" y2="512.7" stroke="#000" stroke-width="1.2" stroke-linecap="butt"/>
<line x1="480.74" y1="77.4" x2="480.74" y2="87.8" stroke="#000" stroke-width="2.3" stroke-linecap="round"/>
<line x1="480.74" y1="506.9" x2="480.74" y2="517.3" stroke="#000" stroke-width="2.3" stroke-linecap="round"/>
<path d="M463.48 531.08 L461.48 531.75 L460.15 533.75 L459.49 537.07 L459.49 539.06 L460.15 542.39 L461.48 544.38 L463.48 545.05 L464.81 545.05 L466.8 544.38 L468.13 542.39 L468.8 539.06 L468.8 537.07 L468.13 533.75 L466.8 531.75 L464.81 531.08 L463.48 531.08 M474.1 543.72 L473.44 544.38 L474.1 545.05 L474.77 544.38 L474.1 543.72 M488.05 533.08 L487.39 531.75 L485.39 531.08 L484.06 531.08 L482.07 531.75 L480.74 533.75 L480.07 537.07 L480.07 540.39 L480.74 543.05 L482.07 544.38 L484.06 545.05 L484.73 545.05 L486.72 544.38 L488.05 543.05 L488.72 541.06 L488.72 540.39 L488.05 538.4 L486.72 537.07 L484.73 536.4 L484.06 536.4 L482.07 537.07 L480.74 538.4 L480.07 540.39 M496.68 531.08 L494.68 531.75 L493.35 533.75 L492.69 537.07 L492.69 539.06 L493.35 542.39 L494.68 544.38 L496.68 545.05 L498.01 545.05 L500 544.38 L501.33 542.39 L502 539.06 L502 537.07 L501.33 533.75 L500 531.75 L498.01 531.08 L496.68 531.08" fill="none" stroke="#000" stroke-width="1.35" stroke-linecap="round" stroke-linejoin="round"/>
<line x1="492.71" y1="82" x2="492.71" y2="87.8" stroke="#000" stroke-width="1.2" stroke-linecap="butt"/>
<line x1="492.71" y1="506.9" x2="492.71" y2="512.7" stroke="#000" stroke-width="1.2" stroke-linecap="butt"/>
<line x1="504.69" y1="82" x2="504.69" y2="87.8" stroke="#000" stroke-width="1.2" stroke-linecap="butt"/>
<line x1="504.69" y1="506.9" x2="504.69" y2="512.7" stroke="#000" stroke-width="1.2" stroke-linecap="butt"/>
<line x1="516.66" y1="82" x2="516.66" y2="87.8" stroke="#000" stroke-width="1.2" stroke-linecap="butt"/>
<line x1="516.66" y1="506.9" x2="516.66" y2="512.7" stroke="#000" stroke-width="1.2" stroke-linecap="butt"/>
<line x1="528.63" y1="82" x2="528.63" y2="87.8" stroke="#000" stroke-width="1.2" stroke-linecap="butt"/>
<line x1="528.63" y1="506.9" x2="528.63" y2="512.7" stroke="#000" stroke-width="1.2" stroke-linecap="butt"/>
<line x1="540.6" y1="77.4" x2="540.6" y2="87.8" stroke="#000" stroke-width="2.3" stroke-linecap="round"/>
<line x1="540.6" y1="506.9" x2="540.6" y2="517.3" stroke="#000" stroke-width="2.3" stroke-linecap="round"/>
<path d="M523.34 531.08 L521.34 531.75 L520.01 533.75 L519.35 537.07 L519.35 539.06 L520.01 542.39 L521.34 544.38 L523.34 545.05 L524.66 545.05 L526.66 544.38 L527.99 542.39 L528.65 539.06 L528.65 537.07 L527.99 533.75 L526.66 531.75 L524.66 531.08 L523.34 531.08 M533.96 543.72 L533.3 544.38 L533.96 545.05 L534.62 544.38 L533.96 543.72 M548.58 531.08 L541.93 545.05 M539.26 531.08 L548.58 531.08 M556.53 531.08 L554.54 531.75 L553.21 533.75 L552.55 537.07 L552.55 539.06 L553.21 542.39 L554.54 544.38 L556.53 545.05 L557.87 545.05 L559.86 544.38 L561.19 542.39 L561.86 539.06 L561.86 537.07 L561.19 533.75 L559.86 531.75 L557.87 531.08 L556.53 531.08" fill="none" stroke="#000" stroke-width="1.35" stroke-linecap="round" stroke-linejoin="round"/>
<path d="M128.04 59.6 L128.04 71.18 L127.32 73.35 L126.59 74.08 L125.14 74.8 L123.7 74.8 L122.25 74.08 L121.52 73.35 L120.8 71.18 L120.8 69.73 M137.64 59.6 L131.85 74.8 M137.64 59.6 L143.43 74.8 M134.02 69.73 L141.26 69.73 M147.27 59.6 L147.27 74.8 M147.27 59.6 L157.41 74.8 M157.41 59.6 L157.41 74.8" fill="none" stroke="#000" stroke-width="1.45" stroke-linecap="round" stroke-linejoin="round"/>
<path d="M182.81 563.91 L181.1 562.2 L178.53 561.34 L175.11 561.34 L172.55 562.2 L170.84 563.91 L170.84 565.62 L171.69 567.33 L172.55 568.18 L174.26 569.04 L179.39 570.75 L181.1 571.6 L181.95 572.46 L182.81 574.17 L182.81 576.73 L181.1 578.44 L178.53 579.3 L175.11 579.3 L172.55 578.44 L170.84 576.73 M188.36 567.33 L188.36 585.28 M188.36 569.89 L190.07 568.18 L191.78 567.33 L194.35 567.33 L196.06 568.18 L197.77 569.89 L198.62 572.46 L198.62 574.17 L197.77 576.73 L196.06 578.44 L194.35 579.3 L191.78 579.3 L190.07 578.44 L188.36 576.73 M203.35 572.46 L213.61 572.46 L213.61 570.75 L212.75 569.04 L211.9 568.18 L210.19 567.33 L207.62 567.33 L205.91 568.18 L204.2 569.89 L203.35 572.46 L203.35 574.17 L204.2 576.73 L205.91 578.44 L207.62 579.3 L210.19 579.3 L211.9 578.44 L213.61 576.73 M228.6 569.89 L226.89 568.18 L225.18 567.33 L222.62 567.33 L220.91 568.18 L219.2 569.89 L218.34 572.46 L218.34 574.17 L219.2 576.73 L220.91 578.44 L222.62 579.3 L225.18 579.3 L226.89 578.44 L228.6 576.73 M233.44 561.34 L234.3 562.2 L235.15 561.34 L234.3 560.49 L233.44 561.34 M234.3 567.33 L234.3 579.3 M246.05 561.34 L244.34 561.34 L242.63 562.2 L241.77 564.76 L241.77 579.3 M239.21 567.33 L245.19 567.33 M250.1 561.34 L250.96 562.2 L251.81 561.34 L250.96 560.49 L250.1 561.34 M250.96 567.33 L250.96 579.3 M266.92 569.89 L265.21 568.18 L263.5 567.33 L260.93 567.33 L259.22 568.18 L257.51 569.89 L256.66 572.46 L256.66 574.17 L257.51 576.73 L259.22 578.44 L260.93 579.3 L263.5 579.3 L265.21 578.44 L266.92 576.73 M285.79 561.34 L285.79 579.3 M297.76 561.34 L297.76 579.3 M285.79 569.89 L297.76 569.89 M304.15 567.33 L304.15 575.88 L305.01 578.44 L306.72 579.3 L309.28 579.3 L310.99 578.44 L313.56 575.88 M313.56 567.33 L313.56 579.3 M319.86 567.33 L319.86 579.3 M319.86 570.75 L322.42 568.18 L324.13 567.33 L326.7 567.33 L328.41 568.18 L329.26 570.75 L329.26 579.3 M329.26 570.75 L331.83 568.18 L333.54 567.33 L336.1 567.33 L337.81 568.18 L338.67 570.75 L338.67 579.3 M344.23 561.34 L345.09 562.2 L345.94 561.34 L345.09 560.49 L344.23 561.34 M345.09 567.33 L345.09 579.3 M361.04 561.34 L361.04 579.3 M361.04 569.89 L359.33 568.18 L357.62 567.33 L355.05 567.33 L353.34 568.18 L351.63 569.89 L350.78 572.46 L350.78 574.17 L351.63 576.73 L353.34 578.44 L355.05 579.3 L357.62 579.3 L359.33 578.44 L361.04 576.73 M366.72 561.34 L367.58 562.2 L368.43 561.34 L367.58 560.49 L366.72 561.34 M367.58 567.33 L367.58 579.3 M375.05 561.34 L375.05 575.88 L375.91 578.44 L377.62 579.3 L379.33 579.3 M372.49 567.33 L378.47 567.33 M382.44 567.33 L387.57 579.3 M392.7 567.33 L387.57 579.3 L385.86 582.72 L384.15 584.43 L382.44 585.28 L381.59 585.28 M416.81 557.92 L415.1 559.63 L413.39 562.2 L411.68 565.62 L410.83 569.89 L410.83 573.31 L411.68 577.59 L413.39 581.01 L415.1 583.57 L416.81 585.28 M431.84 567.33 L431.84 581.01 L430.99 583.57 L430.13 584.43 L428.42 585.28 L425.86 585.28 L424.15 584.43 M431.84 569.89 L430.13 568.18 L428.42 567.33 L425.86 567.33 L424.15 568.18 L422.44 569.89 L421.58 572.46 L421.58 574.17 L422.44 576.73 L424.15 578.44 L425.86 579.3 L428.42 579.3 L430.13 578.44 L431.84 576.73 M451.91 557.92 L436.52 585.28 M456.61 561.34 L456.61 579.3 M465.16 567.33 L456.61 575.88 M460.03 572.46 L466.02 579.3 M480.16 567.33 L480.16 581.01 L479.3 583.57 L478.45 584.43 L476.74 585.28 L474.17 585.28 L472.46 584.43 M480.16 569.89 L478.45 568.18 L476.74 567.33 L474.17 567.33 L472.46 568.18 L470.75 569.89 L469.9 572.46 L469.9 574.17 L470.75 576.73 L472.46 578.44 L474.17 579.3 L476.74 579.3 L478.45 578.44 L480.16 576.73 M485.78 557.92 L487.49 559.63 L489.2 562.2 L490.91 565.62 L491.76 569.89 L491.76 573.31 L490.91 577.59 L489.2 581.01 L487.49 583.57 L485.78 585.28" fill="none" stroke="#000" stroke-width="1.5" stroke-linecap="round" stroke-linejoin="round"/>
<path d="M13.56 389.14 L31.2 389.14 M13.56 389.14 L13.56 381.58 L14.4 379.06 L15.24 378.22 L16.92 377.38 L19.44 377.38 L21.12 378.22 L21.96 379.06 L22.8 381.58 L22.8 389.14 M19.44 371.59 L31.2 371.59 M24.48 371.59 L21.96 370.75 L20.28 369.07 L19.44 367.39 L19.44 364.87 M24.48 361.58 L24.48 351.5 L22.8 351.5 L21.12 352.34 L20.28 353.18 L19.44 354.86 L19.44 357.38 L20.28 359.06 L21.96 360.74 L24.48 361.58 L26.16 361.58 L28.68 360.74 L30.36 359.06 L31.2 357.38 L31.2 354.86 L30.36 353.18 L28.68 351.5 M21.96 337.31 L20.28 338.15 L19.44 340.67 L19.44 343.19 L20.28 345.71 L21.96 346.55 L23.64 345.71 L24.48 344.03 L25.32 339.83 L26.16 338.15 L27.84 337.31 L28.68 337.31 L30.36 338.15 L31.2 340.67 L31.2 343.19 L30.36 345.71 L28.68 346.55 M21.96 323.12 L20.28 323.96 L19.44 326.48 L19.44 329 L20.28 331.52 L21.96 332.36 L23.64 331.52 L24.48 329.84 L25.32 325.64 L26.16 323.96 L27.84 323.12 L28.68 323.12 L30.36 323.96 L31.2 326.48 L31.2 329 L30.36 331.52 L28.68 332.36 M19.44 317.33 L27.84 317.33 L30.36 316.49 L31.2 314.81 L31.2 312.29 L30.36 310.61 L27.84 308.09 M19.44 308.09 L31.2 308.09 M19.44 301.45 L31.2 301.45 M24.48 301.45 L21.96 300.61 L20.28 298.93 L19.44 297.25 L19.44 294.73 M24.48 291.44 L24.48 281.36 L22.8 281.36 L21.12 282.2 L20.28 283.04 L19.44 284.72 L19.44 287.24 L20.28 288.92 L21.96 290.6 L24.48 291.44 L26.16 291.44 L28.68 290.6 L30.36 288.92 L31.2 287.24 L31.2 284.72 L30.36 283.04 L28.68 281.36 M10.2 256.32 L11.88 258 L14.4 259.68 L17.76 261.36 L21.96 262.2 L25.32 262.2 L29.52 261.36 L32.88 259.68 L35.4 258 L37.08 256.32 M19.44 250.55 L31.2 250.55 M22.8 250.55 L20.28 248.03 L19.44 246.35 L19.44 243.83 L20.28 242.15 L22.8 241.31 L31.2 241.31 M22.8 241.31 L20.28 238.79 L19.44 237.11 L19.44 234.59 L20.28 232.91 L22.8 232.07 L31.2 232.07 M13.56 225.48 L31.2 225.48 M21.96 225.48 L20.28 223.8 L19.44 222.12 L19.44 219.6 L20.28 217.92 L21.96 216.24 L24.48 215.4 L26.16 215.4 L28.68 216.24 L30.36 217.92 L31.2 219.6 L31.2 222.12 L30.36 223.8 L28.68 225.48 M10.2 210.44 L11.88 208.76 L14.4 207.08 L17.76 205.4 L21.96 204.56 L25.32 204.56 L29.52 205.4 L32.88 207.08 L35.4 208.76 L37.08 210.44" fill="none" stroke="#000" stroke-width="1.5" stroke-linecap="round" stroke-linejoin="round"/>
<circle cx="746.9" cy="113.2" r="4.2" fill="#b03060"/>
<circle cx="760.8" cy="164" r="4.2" fill="#b03060"/>
<circle cx="768.9" cy="189.4" r="4.2" fill="#b03060"/>
<circle cx="768.9" cy="214.8" r="4.2" fill="#b03060"/>
<circle cx="771.9" cy="240.2" r="4.2" fill="#b03060"/>
<circle cx="787" cy="265.6" r="4.2" fill="#b03060"/>
<circle cx="811.7" cy="291" r="4.2" fill="#b03060"/>
<circle cx="837.6" cy="316.4" r="4.2" fill="#b03060"/>
<circle cx="866.7" cy="341.8" r="4.2" fill="#b03060"/>
<circle cx="896.3" cy="367.2" r="4.2" fill="#b03060"/>
<circle cx="919.5" cy="392.6" r="4.2" fill="#b03060"/>
<circle cx="940.3" cy="418" r="4.2" fill="#b03060"/>
<circle cx="958.8" cy="443.4" r="4.2" fill="#b03060"/>
<circle cx="981" cy="468.8" r="4.2" fill="#b03060"/>
<circle cx="964.4" cy="494.2" r="4.2" fill="#b03060"/>
<polyline points="687.3,104.1 689.4,122.6 692.6,141.1 701.4,172.8 719.1,203.7 752.5,239.8 808.4,282 865.1,322.6 909.5,354.3 967.6,414 978.1,427.2 982.6,442.2 988.4,456.3 974.3,465.5" fill="none" stroke="#f00" stroke-width="2.3" stroke-dasharray="8.9 4.2" stroke-linecap="round" stroke-linejoin="round"/>
<polyline points="687.3,102.3 690.2,120.3 695.6,145 705.3,171.9 725.2,204.2 765.7,243 823.2,282 892.8,322.6 990.5,377 1052.2,414 1067.7,426 1072.4,437.4 1070.3,446.6 1063.6,456.3 1043.3,464.6" fill="none" stroke="#00f" stroke-width="2.3" stroke-linecap="round" stroke-linejoin="round"/>
<rect x="865.4" y="91.3" width="300" height="76.3" fill="none" stroke="#000" stroke-width="1.25"/>
<line x1="868.6" y1="106.5" x2="928.5" y2="106.5" stroke="#00f" stroke-width="2.3" stroke-linecap="butt"/>
<line x1="868.6" y1="129.5" x2="928.5" y2="129.5" stroke="#f00" stroke-width="2.3" stroke-dasharray="8.9 4.2" stroke-linecap="round"/>
<circle cx="898.4" cy="152.8" r="4.2" fill="#b03060"/>
<path d="M939.79 101.42 L939.06 99.96 L937.6 98.49 L936.13 97.76 L933.2 97.76 L931.73 98.49 L930.27 99.96 L929.53 101.42 L928.8 103.62 L928.8 107.29 L929.53 109.48 L930.27 110.95 L931.73 112.42 L933.2 113.15 L936.13 113.15 L937.6 112.42 L939.06 110.95 L939.79 109.48 M945.09 97.76 L945.09 113.15 M945.09 97.76 L954.61 97.76 M945.09 105.09 L950.95 105.09 M945.09 113.15 L954.61 113.15 M968.7 99.96 L967.23 98.49 L965.03 97.76 L962.1 97.76 L959.9 98.49 L958.44 99.96 L958.44 101.42 L959.17 102.89 L959.9 103.62 L961.37 104.35 L965.77 105.82 L967.23 106.55 L967.96 107.29 L968.7 108.75 L968.7 110.95 L967.23 112.42 L965.03 113.15 L962.1 113.15 L959.9 112.42 L958.44 110.95 M974 97.76 L974 113.15 M974 97.76 L979.87 113.15 M985.73 97.76 L979.87 113.15 M985.73 97.76 L985.73 113.15 M991.77 101.42 L991.77 100.69 L992.51 99.22 L993.24 98.49 L994.7 97.76 L997.64 97.76 L999.1 98.49 L999.84 99.22 L1000.57 100.69 L1000.57 102.16 L999.84 103.62 L998.37 105.82 L991.04 113.15 L1001.3 113.15 M1006.6 97.76 L1006.6 113.15 M1006.6 97.76 L1013.19 97.76 L1015.39 98.49 L1016.13 99.22 L1016.86 100.69 L1016.86 102.16 L1016.13 103.62 L1015.39 104.35 L1013.19 105.09 M1006.6 105.09 L1013.19 105.09 L1015.39 105.82 L1016.13 106.55 L1016.86 108.02 L1016.86 110.22 L1016.13 111.68 L1015.39 112.42 L1013.19 113.15 L1006.6 113.15 M1022.15 101.42 L1022.15 100.69 L1022.89 99.22 L1023.62 98.49 L1025.09 97.76 L1028.02 97.76 L1029.48 98.49 L1030.22 99.22 L1030.95 100.69 L1030.95 102.16 L1030.22 103.62 L1028.75 105.82 L1021.42 113.15 L1031.68 113.15 M1036.24 116.3 L1046.5 116.3 M1055.47 97.76 L1054 98.49 L1052.53 99.96 L1051.8 101.42 L1051.07 103.62 L1051.07 107.29 L1051.8 109.48 L1052.53 110.95 L1054 112.42 L1055.47 113.15 L1058.4 113.15 L1059.87 112.42 L1061.33 110.95 L1062.06 109.48 L1062.8 107.29 L1062.8 103.62 L1062.06 101.42 L1061.33 99.96 L1059.87 98.49 L1058.4 97.76 L1055.47 97.76 M1075.41 105.09 L1074.68 103.62 L1072.48 102.89 L1070.28 102.89 L1068.08 103.62 L1067.35 105.09 L1068.08 106.55 L1069.55 107.29 L1073.21 108.02 L1074.68 108.75 L1075.41 110.22 L1075.41 110.95 L1074.68 112.42 L1072.48 113.15 L1070.28 113.15 L1068.08 112.42 L1067.35 110.95 M1080.64 97.76 L1080.64 113.15 M1089.55 102.89 L1088.08 103.62 L1086.62 105.09 L1085.88 107.29 L1085.88 108.75 L1086.62 110.95 L1088.08 112.42 L1089.55 113.15 L1091.75 113.15 L1093.21 112.42 L1094.68 110.95 L1095.41 108.75 L1095.41 107.29 L1094.68 105.09 L1093.21 103.62 L1091.75 102.89 L1089.55 102.89 M1099.97 116.3 L1110.23 116.3 M1115.51 97.76 L1115.51 113.15 M1115.51 97.76 L1125.04 97.76 M1115.51 105.09 L1121.38 105.09 M1139.12 101.42 L1138.39 99.96 L1136.92 98.49 L1135.46 97.76 L1132.53 97.76 L1131.06 98.49 L1129.59 99.96 L1128.86 101.42 L1128.13 103.62 L1128.13 107.29 L1128.86 109.48 L1129.59 110.95 L1131.06 112.42 L1132.53 113.15 L1135.46 113.15 L1136.92 112.42 L1138.39 110.95 L1139.12 109.48" fill="none" stroke="#000" stroke-width="1.4" stroke-linecap="round" stroke-linejoin="round"/>
<path d="M939.79 123.12 L939.06 121.66 L937.6 120.19 L936.13 119.46 L933.2 119.46 L931.73 120.19 L930.27 121.66 L929.53 123.12 L928.8 125.32 L928.8 128.99 L929.53 131.19 L930.27 132.65 L931.73 134.12 L933.2 134.85 L936.13 134.85 L937.6 134.12 L939.06 132.65 L939.79 131.19 M945.09 119.46 L945.09 134.85 M945.09 119.46 L954.61 119.46 M945.09 126.79 L950.95 126.79 M945.09 134.85 L954.61 134.85 M968.7 121.66 L967.23 120.19 L965.03 119.46 L962.1 119.46 L959.9 120.19 L958.44 121.66 L958.44 123.12 L959.17 124.59 L959.9 125.32 L961.37 126.05 L965.77 127.52 L967.23 128.25 L967.96 128.99 L968.7 130.45 L968.7 132.65 L967.23 134.12 L965.03 134.85 L962.1 134.85 L959.9 134.12 L958.44 132.65 M974 119.46 L974 134.85 M974 119.46 L979.87 134.85 M985.73 119.46 L979.87 134.85 M985.73 119.46 L985.73 134.85 M991.77 123.12 L991.77 122.39 L992.51 120.92 L993.24 120.19 L994.7 119.46 L997.64 119.46 L999.1 120.19 L999.84 120.92 L1000.57 122.39 L1000.57 123.85 L999.84 125.32 L998.37 127.52 L991.04 134.85 L1001.3 134.85 M1006.6 119.46 L1006.6 134.85 M1006.6 119.46 L1013.19 119.46 L1015.39 120.19 L1016.13 120.92 L1016.86 122.39 L1016.86 123.85 L1016.13 125.32 L1015.39 126.05 L1013.19 126.79 M1006.6 126.79 L1013.19 126.79 L1015.39 127.52 L1016.13 128.25 L1016.86 129.72 L1016.86 131.92 L1016.13 133.38 L1015.39 134.12 L1013.19 134.85 L1006.6 134.85 M1022.15 123.12 L1022.15 122.39 L1022.89 120.92 L1023.62 120.19 L1025.09 119.46 L1028.02 119.46 L1029.48 120.19 L1030.22 120.92 L1030.95 122.39 L1030.95 123.85 L1030.22 125.32 L1028.75 127.52 L1021.42 134.85 L1031.68 134.85 M1036.24 138 L1046.5 138 M1055.47 119.46 L1054 120.19 L1052.53 121.66 L1051.8 123.12 L1051.07 125.32 L1051.07 128.99 L1051.8 131.19 L1052.53 132.65 L1054 134.12 L1055.47 134.85 L1058.4 134.85 L1059.87 134.12 L1061.33 132.65 L1062.06 131.19 L1062.8 128.99 L1062.8 125.32 L1062.06 123.12 L1061.33 121.66 L1059.87 120.19 L1058.4 119.46 L1055.47 119.46 M1075.41 126.79 L1074.68 125.32 L1072.48 124.59 L1070.28 124.59 L1068.08 125.32 L1067.35 126.79 L1068.08 128.25 L1069.55 128.99 L1073.21 129.72 L1074.68 130.45 L1075.41 131.92 L1075.41 132.65 L1074.68 134.12 L1072.48 134.85 L1070.28 134.85 L1068.08 134.12 L1067.35 132.65 M1080.64 119.46 L1080.64 134.85 M1089.55 124.59 L1088.08 125.32 L1086.62 126.79 L1085.88 128.99 L1085.88 130.45 L1086.62 132.65 L1088.08 134.12 L1089.55 134.85 L1091.75 134.85 L1093.21 134.12 L1094.68 132.65 L1095.41 130.45 L1095.41 128.99 L1094.68 126.79 L1093.21 125.32 L1091.75 124.59 L1089.55 124.59 M1099.97 138 L1110.23 138 M1115.51 119.46 L1115.51 134.85 M1115.51 119.46 L1125.04 119.46 M1115.51 126.79 L1121.38 126.79 M1139.12 123.12 L1138.39 121.66 L1136.92 120.19 L1135.46 119.46 L1132.53 119.46 L1131.06 120.19 L1129.59 121.66 L1128.86 123.12 L1128.13 125.32 L1128.13 128.99 L1128.86 131.19 L1129.59 132.65 L1131.06 134.12 L1132.53 134.85 L1135.46 134.85 L1136.92 134.12 L1138.39 132.65 L1139.12 131.19" fill="none" stroke="#000" stroke-width="1.4" stroke-linecap="round" stroke-linejoin="round"/>
<path d="M928.5 150.19 L928.5 160.45 M928.5 154.59 L929.23 152.39 L930.7 150.92 L932.16 150.19 L934.36 150.19 M946.22 150.19 L946.22 160.45 M946.22 152.39 L944.75 150.92 L943.29 150.19 L941.09 150.19 L939.62 150.92 L938.16 152.39 L937.42 154.59 L937.42 156.05 L938.16 158.25 L939.62 159.72 L941.09 160.45 L943.29 160.45 L944.75 159.72 L946.22 158.25 M955.17 150.19 L953.7 150.92 L952.24 152.39 L951.5 154.59 L951.5 156.05 L952.24 158.25 L953.7 159.72 L955.17 160.45 L957.37 160.45 L958.83 159.72 L960.3 158.25 L961.03 156.05 L961.03 154.59 L960.3 152.39 L958.83 150.92 L957.37 150.19 L955.17 150.19 M966.31 145.06 L966.31 160.45 M966.31 152.39 L967.78 150.92 L969.25 150.19 L971.45 150.19 L972.91 150.92 L974.38 152.39 L975.11 154.59 L975.11 156.05 L974.38 158.25 L972.91 159.72 L971.45 160.45 L969.25 160.45 L967.78 159.72 L966.31 158.25 M987.72 152.39 L986.98 150.92 L984.78 150.19 L982.58 150.19 L980.39 150.92 L979.65 152.39 L980.39 153.85 L981.85 154.59 L985.52 155.32 L986.98 156.05 L987.72 157.52 L987.72 158.25 L986.98 159.72 L984.78 160.45 L982.58 160.45 L980.39 159.72 L979.65 158.25" fill="none" stroke="#000" stroke-width="1.4" stroke-linecap="round" stroke-linejoin="round"/>
<rect x="684" y="87.8" width="419" height="419.1" fill="none" stroke="#000" stroke-width="2.3"/>
<line x1="673.6" y1="87.8" x2="684" y2="87.8" stroke="#000" stroke-width="2.3" stroke-linecap="round"/>
<line x1="1103" y1="87.8" x2="1113.4" y2="87.8" stroke="#000" stroke-width="2.3" stroke-linecap="round"/>
<path d="M624.79 84.16 L624.79 83.5 L625.46 82.16 L626.12 81.5 L627.45 80.83 L630.12 80.83 L631.44 81.5 L632.11 82.16 L632.77 83.5 L632.77 84.82 L632.11 86.16 L630.78 88.15 L624.13 94.8 L633.44 94.8 M641.4 80.83 L639.4 81.5 L638.07 83.5 L637.41 86.82 L637.41 88.81 L638.07 92.14 L639.4 94.13 L641.4 94.8 L642.73 94.8 L644.73 94.13 L646.05 92.14 L646.72 88.81 L646.72 86.82 L646.05 83.5 L644.73 81.5 L642.73 80.83 L641.4 80.83 M654.68 80.83 L652.68 81.5 L651.36 83.5 L650.69 86.82 L650.69 88.81 L651.36 92.14 L652.68 94.13 L654.68 94.8 L656.01 94.8 L658 94.13 L659.34 92.14 L660 88.81 L660 86.82 L659.34 83.5 L658 81.5 L656.01 80.83 L654.68 80.83" fill="none" stroke="#000" stroke-width="1.35" stroke-linecap="round" stroke-linejoin="round"/>
<line x1="678.2" y1="113.2" x2="684" y2="113.2" stroke="#000" stroke-width="1.2" stroke-linecap="butt"/>
<line x1="1103" y1="113.2" x2="1108.8" y2="113.2" stroke="#000" stroke-width="1.2" stroke-linecap="butt"/>
<line x1="678.2" y1="138.6" x2="684" y2="138.6" stroke="#000" stroke-width="1.2" stroke-linecap="butt"/>
<line x1="1103" y1="138.6" x2="1108.8" y2="138.6" stroke="#000" stroke-width="1.2" stroke-linecap="butt"/>
<line x1="678.2" y1="164" x2="684" y2="164" stroke="#000" stroke-width="1.2" stroke-linecap="butt"/>
<line x1="1103" y1="164" x2="1108.8" y2="164" stroke="#000" stroke-width="1.2" stroke-linecap="butt"/>
<line x1="673.6" y1="189.4" x2="684" y2="189.4" stroke="#000" stroke-width="2.3" stroke-linecap="round"/>
<line x1="1103" y1="189.4" x2="1113.4" y2="189.4" stroke="#000" stroke-width="2.3" stroke-linecap="round"/>
<path d="M630.78 182.43 L624.13 191.74 L634.11 191.74 M630.78 182.43 L630.78 196.4 M641.4 182.43 L639.4 183.1 L638.07 185.09 L637.41 188.42 L637.41 190.41 L638.07 193.74 L639.4 195.73 L641.4 196.4 L642.73 196.4 L644.73 195.73 L646.05 193.74 L646.72 190.41 L646.72 188.42 L646.05 185.09 L644.73 183.1 L642.73 182.43 L641.4 182.43 M654.68 182.43 L652.68 183.1 L651.36 185.09 L650.69 188.42 L650.69 190.41 L651.36 193.74 L652.68 195.73 L654.68 196.4 L656.01 196.4 L658 195.73 L659.34 193.74 L660 190.41 L660 188.42 L659.34 185.09 L658 183.1 L656.01 182.43 L654.68 182.43" fill="none" stroke="#000" stroke-width="1.35" stroke-linecap="round" stroke-linejoin="round"/>
<line x1="678.2" y1="214.8" x2="684" y2="214.8" stroke="#000" stroke-width="1.2" stroke-linecap="butt"/>
<line x1="1103" y1="214.8" x2="1108.8" y2="214.8" stroke="#000" stroke-width="1.2" stroke-linecap="butt"/>
<line x1="678.2" y1="240.2" x2="684" y2="240.2" stroke="#000" stroke-width="1.2" stroke-linecap="butt"/>
<line x1="1103" y1="240.2" x2="1108.8" y2="240.2" stroke="#000" stroke-width="1.2" stroke-linecap="butt"/>
<line x1="678.2" y1="265.6" x2="684" y2="265.6" stroke="#000" stroke-width="1.2" stroke-linecap="butt"/>
<line x1="1103" y1="265.6" x2="1108.8" y2="265.6" stroke="#000" stroke-width="1.2" stroke-linecap="butt"/>
<line x1="673.6" y1="291" x2="684" y2="291" stroke="#000" stroke-width="2.3" stroke-linecap="round"/>
<line x1="1103" y1="291" x2="1113.4" y2="291" stroke="#000" stroke-width="2.3" stroke-linecap="round"/>
<path d="M632.77 286.03 L632.11 284.7 L630.12 284.04 L628.78 284.04 L626.79 284.7 L625.46 286.69 L624.79 290.02 L624.79 293.35 L625.46 296 L626.79 297.33 L628.78 298 L629.45 298 L631.44 297.33 L632.77 296 L633.44 294.01 L633.44 293.35 L632.77 291.35 L631.44 290.02 L629.45 289.36 L628.78 289.36 L626.79 290.02 L625.46 291.35 L624.79 293.35 M641.4 284.04 L639.4 284.7 L638.07 286.69 L637.41 290.02 L637.41 292.01 L638.07 295.34 L639.4 297.33 L641.4 298 L642.73 298 L644.73 297.33 L646.05 295.34 L646.72 292.01 L646.72 290.02 L646.05 286.69 L644.73 284.7 L642.73 284.04 L641.4 284.04 M654.68 284.04 L652.68 284.7 L651.36 286.69 L650.69 290.02 L650.69 292.01 L651.36 295.34 L652.68 297.33 L654.68 298 L656.01 298 L658 297.33 L659.34 295.34 L660 292.01 L660 290.02 L659.34 286.69 L658 284.7 L656.01 284.04 L654.68 284.04" fill="none" stroke="#000" stroke-width="1.35" stroke-linecap="round" stroke-linejoin="round"/>
<line x1="678.2" y1="316.4" x2="684" y2="316.4" stroke="#000" stroke-width="1.2" stroke-linecap="butt"/>
<line x1="1103" y1="316.4" x2="1108.8" y2="316.4" stroke="#000" stroke-width="1.2" stroke-linecap="butt"/>
<line x1="678.2" y1="341.8" x2="684" y2="341.8" stroke="#000" stroke-width="1.2" stroke-linecap="butt"/>
<line x1="1103" y1="341.8" x2="1108.8" y2="341.8" stroke="#000" stroke-width="1.2" stroke-linecap="butt"/>
<line x1="678.2" y1="367.2" x2="684" y2="367.2" stroke="#000" stroke-width="1.2" stroke-linecap="butt"/>
<line x1="1103" y1="367.2" x2="1108.8" y2="367.2" stroke="#000" stroke-width="1.2" stroke-linecap="butt"/>
<line x1="673.6" y1="392.6" x2="684" y2="392.6" stroke="#000" stroke-width="2.3" stroke-linecap="round"/>
<line x1="1103" y1="392.6" x2="1113.4" y2="392.6" stroke="#000" stroke-width="2.3" stroke-linecap="round"/>
<path d="M627.45 385.64 L625.46 386.3 L624.79 387.63 L624.79 388.96 L625.46 390.29 L626.79 390.96 L629.45 391.62 L631.44 392.29 L632.77 393.62 L633.44 394.95 L633.44 396.94 L632.77 398.27 L632.11 398.94 L630.12 399.6 L627.45 399.6 L625.46 398.94 L624.79 398.27 L624.13 396.94 L624.13 394.95 L624.79 393.62 L626.12 392.29 L628.12 391.62 L630.78 390.96 L632.11 390.29 L632.77 388.96 L632.77 387.63 L632.11 386.3 L630.12 385.64 L627.45 385.64 M641.4 385.64 L639.4 386.3 L638.07 388.3 L637.41 391.62 L637.41 393.62 L638.07 396.94 L639.4 398.94 L641.4 399.6 L642.73 399.6 L644.73 398.94 L646.05 396.94 L646.72 393.62 L646.72 391.62 L646.05 388.3 L644.73 386.3 L642.73 385.64 L641.4 385.64 M654.68 385.64 L652.68 386.3 L651.36 388.3 L650.69 391.62 L650.69 393.62 L651.36 396.94 L652.68 398.94 L654.68 399.6 L656.01 399.6 L658 398.94 L659.34 396.94 L660 393.62 L660 391.62 L659.34 388.3 L658 386.3 L656.01 385.64 L654.68 385.64" fill="none" stroke="#000" stroke-width="1.35" stroke-linecap="round" stroke-linejoin="round"/>
<line x1="678.2" y1="418" x2="684" y2="418" stroke="#000" stroke-width="1.2" stroke-linecap="butt"/>
<line x1="1103" y1="418" x2="1108.8" y2="418" stroke="#000" stroke-width="1.2" stroke-linecap="butt"/>
<line x1="678.2" y1="443.4" x2="684" y2="443.4" stroke="#000" stroke-width="1.2" stroke-linecap="butt"/>
<line x1="1103" y1="443.4" x2="1108.8" y2="443.4" stroke="#000" stroke-width="1.2" stroke-linecap="butt"/>
<line x1="678.2" y1="468.8" x2="684" y2="468.8" stroke="#000" stroke-width="1.2" stroke-linecap="butt"/>
<line x1="1103" y1="468.8" x2="1108.8" y2="468.8" stroke="#000" stroke-width="1.2" stroke-linecap="butt"/>
<line x1="673.6" y1="494.2" x2="684" y2="494.2" stroke="#000" stroke-width="2.3" stroke-linecap="round"/>
<line x1="1103" y1="494.2" x2="1113.4" y2="494.2" stroke="#000" stroke-width="2.3" stroke-linecap="round"/>
<path d="M612.85 489.89 L614.17 489.23 L616.17 487.24 L616.17 501.2 M628.12 487.24 L626.12 487.9 L624.79 489.89 L624.13 493.22 L624.13 495.21 L624.79 498.54 L626.12 500.53 L628.12 501.2 L629.45 501.2 L631.45 500.53 L632.77 498.54 L633.44 495.21 L633.44 493.22 L632.77 489.89 L631.45 487.9 L629.45 487.24 L628.12 487.24 M641.4 487.24 L639.4 487.9 L638.08 489.89 L637.41 493.22 L637.41 495.21 L638.08 498.54 L639.4 500.53 L641.4 501.2 L642.73 501.2 L644.73 500.53 L646.06 498.54 L646.72 495.21 L646.72 493.22 L646.06 489.89 L644.73 487.9 L642.73 487.24 L641.4 487.24 M654.68 487.24 L652.69 487.9 L651.36 489.89 L650.69 493.22 L650.69 495.21 L651.36 498.54 L652.69 500.53 L654.68 501.2 L656.01 501.2 L658 500.53 L659.34 498.54 L660 495.21 L660 493.22 L659.34 489.89 L658 487.9 L656.01 487.24 L654.68 487.24" fill="none" stroke="#000" stroke-width="1.35" stroke-linecap="round" stroke-linejoin="round"/>
<line x1="684" y1="77.4" x2="684" y2="87.8" stroke="#000" stroke-width="2.3" stroke-linecap="round"/>
<line x1="684" y1="506.9" x2="684" y2="517.3" stroke="#000" stroke-width="2.3" stroke-linecap="round"/>
<path d="M673.38 531.08 L671.38 531.75 L670.05 533.75 L669.38 537.07 L669.38 539.06 L670.05 542.39 L671.38 544.38 L673.38 545.05 L674.7 545.05 L676.7 544.38 L678.03 542.39 L678.69 539.06 L678.69 537.07 L678.03 533.75 L676.7 531.75 L674.7 531.08 L673.38 531.08 M684 543.72 L683.34 544.38 L684 545.05 L684.66 544.38 L684 543.72 M693.29 531.08 L691.3 531.75 L689.97 533.75 L689.3 537.07 L689.3 539.06 L689.97 542.39 L691.3 544.38 L693.29 545.05 L694.62 545.05 L696.62 544.38 L697.95 542.39 L698.62 539.06 L698.62 537.07 L697.95 533.75 L696.62 531.75 L694.62 531.08 L693.29 531.08" fill="none" stroke="#000" stroke-width="1.35" stroke-linecap="round" stroke-linejoin="round"/>
<line x1="704.95" y1="82" x2="704.95" y2="87.8" stroke="#000" stroke-width="1.2" stroke-linecap="butt"/>
<line x1="704.95" y1="506.9" x2="704.95" y2="512.7" stroke="#000" stroke-width="1.2" stroke-linecap="butt"/>
<line x1="725.9" y1="82" x2="725.9" y2="87.8" stroke="#000" stroke-width="1.2" stroke-linecap="butt"/>
<line x1="725.9" y1="506.9" x2="725.9" y2="512.7" stroke="#000" stroke-width="1.2" stroke-linecap="butt"/>
<line x1="746.85" y1="82" x2="746.85" y2="87.8" stroke="#000" stroke-width="1.2" stroke-linecap="butt"/>
<line x1="746.85" y1="506.9" x2="746.85" y2="512.7" stroke="#000" stroke-width="1.2" stroke-linecap="butt"/>
<line x1="767.8" y1="77.4" x2="767.8" y2="87.8" stroke="#000" stroke-width="2.3" stroke-linecap="round"/>
<line x1="767.8" y1="506.9" x2="767.8" y2="517.3" stroke="#000" stroke-width="2.3" stroke-linecap="round"/>
<path d="M757.17 531.08 L755.18 531.75 L753.85 533.75 L753.18 537.07 L753.18 539.06 L753.85 542.39 L755.18 544.38 L757.17 545.05 L758.5 545.05 L760.5 544.38 L761.83 542.39 L762.49 539.06 L762.49 537.07 L761.83 533.75 L760.5 531.75 L758.5 531.08 L757.17 531.08 M767.8 543.72 L767.13 544.38 L767.8 545.05 L768.46 544.38 L767.8 543.72 M773.77 534.41 L773.77 533.75 L774.43 532.41 L775.1 531.75 L776.43 531.08 L779.09 531.08 L780.42 531.75 L781.08 532.41 L781.75 533.75 L781.75 535.07 L781.08 536.4 L779.75 538.4 L773.1 545.05 L782.41 545.05" fill="none" stroke="#000" stroke-width="1.35" stroke-linecap="round" stroke-linejoin="round"/>
<line x1="788.75" y1="82" x2="788.75" y2="87.8" stroke="#000" stroke-width="1.2" stroke-linecap="butt"/>
<line x1="788.75" y1="506.9" x2="788.75" y2="512.7" stroke="#000" stroke-width="1.2" stroke-linecap="butt"/>
<line x1="809.7" y1="82" x2="809.7" y2="87.8" stroke="#000" stroke-width="1.2" stroke-linecap="butt"/>
<line x1="809.7" y1="506.9" x2="809.7" y2="512.7" stroke="#000" stroke-width="1.2" stroke-linecap="butt"/>
<line x1="830.65" y1="82" x2="830.65" y2="87.8" stroke="#000" stroke-width="1.2" stroke-linecap="butt"/>
<line x1="830.65" y1="506.9" x2="830.65" y2="512.7" stroke="#000" stroke-width="1.2" stroke-linecap="butt"/>
<line x1="851.6" y1="77.4" x2="851.6" y2="87.8" stroke="#000" stroke-width="2.3" stroke-linecap="round"/>
<line x1="851.6" y1="506.9" x2="851.6" y2="517.3" stroke="#000" stroke-width="2.3" stroke-linecap="round"/>
<path d="M840.64 531.08 L838.65 531.75 L837.32 533.75 L836.65 537.07 L836.65 539.06 L837.32 542.39 L838.65 544.38 L840.64 545.05 L841.97 545.05 L843.97 544.38 L845.3 542.39 L845.96 539.06 L845.96 537.07 L845.3 533.75 L843.97 531.75 L841.97 531.08 L840.64 531.08 M851.27 543.72 L850.6 544.38 L851.27 545.05 L851.93 544.38 L851.27 543.72 M863.22 531.08 L856.57 540.39 L866.55 540.39 M863.22 531.08 L863.22 545.05" fill="none" stroke="#000" stroke-width="1.35" stroke-linecap="round" stroke-linejoin="round"/>
<line x1="872.55" y1="82" x2="872.55" y2="87.8" stroke="#000" stroke-width="1.2" stroke-linecap="butt"/>
<line x1="872.55" y1="506.9" x2="872.55" y2="512.7" stroke="#000" stroke-width="1.2" stroke-linecap="butt"/>
<line x1="893.5" y1="82" x2="893.5" y2="87.8" stroke="#000" stroke-width="1.2" stroke-linecap="butt"/>
<line x1="893.5" y1="506.9" x2="893.5" y2="512.7" stroke="#000" stroke-width="1.2" stroke-linecap="butt"/>
<line x1="914.45" y1="82" x2="914.45" y2="87.8" stroke="#000" stroke-width="1.2" stroke-linecap="butt"/>
<line x1="914.45" y1="506.9" x2="914.45" y2="512.7" stroke="#000" stroke-width="1.2" stroke-linecap="butt"/>
<line x1="935.4" y1="77.4" x2="935.4" y2="87.8" stroke="#000" stroke-width="2.3" stroke-linecap="round"/>
<line x1="935.4" y1="506.9" x2="935.4" y2="517.3" stroke="#000" stroke-width="2.3" stroke-linecap="round"/>
<path d="M924.77 531.08 L922.78 531.75 L921.45 533.75 L920.78 537.07 L920.78 539.06 L921.45 542.39 L922.78 544.38 L924.77 545.05 L926.1 545.05 L928.1 544.38 L929.43 542.39 L930.09 539.06 L930.09 537.07 L929.43 533.75 L928.1 531.75 L926.1 531.08 L924.77 531.08 M935.4 543.72 L934.73 544.38 L935.4 545.05 L936.06 544.38 L935.4 543.72 M949.35 533.08 L948.68 531.75 L946.69 531.08 L945.36 531.08 L943.37 531.75 L942.03 533.75 L941.37 537.07 L941.37 540.39 L942.03 543.05 L943.37 544.38 L945.36 545.05 L946.02 545.05 L948.02 544.38 L949.35 543.05 L950.01 541.06 L950.01 540.39 L949.35 538.4 L948.02 537.07 L946.02 536.4 L945.36 536.4 L943.37 537.07 L942.03 538.4 L941.37 540.39" fill="none" stroke="#000" stroke-width="1.35" stroke-linecap="round" stroke-linejoin="round"/>
<line x1="956.35" y1="82" x2="956.35" y2="87.8" stroke="#000" stroke-width="1.2" stroke-linecap="butt"/>
<line x1="956.35" y1="506.9" x2="956.35" y2="512.7" stroke="#000" stroke-width="1.2" stroke-linecap="butt"/>
<line x1="977.3" y1="82" x2="977.3" y2="87.8" stroke="#000" stroke-width="1.2" stroke-linecap="butt"/>
<line x1="977.3" y1="506.9" x2="977.3" y2="512.7" stroke="#000" stroke-width="1.2" stroke-linecap="butt"/>
<line x1="998.25" y1="82" x2="998.25" y2="87.8" stroke="#000" stroke-width="1.2" stroke-linecap="butt"/>
<line x1="998.25" y1="506.9" x2="998.25" y2="512.7" stroke="#000" stroke-width="1.2" stroke-linecap="butt"/>
<line x1="1019.2" y1="77.4" x2="1019.2" y2="87.8" stroke="#000" stroke-width="2.3" stroke-linecap="round"/>
<line x1="1019.2" y1="506.9" x2="1019.2" y2="517.3" stroke="#000" stroke-width="2.3" stroke-linecap="round"/>
<path d="M1008.58 531.08 L1006.58 531.75 L1005.25 533.75 L1004.59 537.07 L1004.59 539.06 L1005.25 542.39 L1006.58 544.38 L1008.58 545.05 L1009.9 545.05 L1011.9 544.38 L1013.23 542.39 L1013.89 539.06 L1013.89 537.07 L1013.23 533.75 L1011.9 531.75 L1009.9 531.08 L1008.58 531.08 M1019.2 543.72 L1018.54 544.38 L1019.2 545.05 L1019.87 544.38 L1019.2 543.72 M1027.83 531.08 L1025.84 531.75 L1025.17 533.08 L1025.17 534.41 L1025.84 535.74 L1027.16 536.4 L1029.83 537.07 L1031.82 537.73 L1033.15 539.06 L1033.82 540.39 L1033.82 542.39 L1033.15 543.72 L1032.49 544.38 L1030.49 545.05 L1027.83 545.05 L1025.84 544.38 L1025.17 543.72 L1024.51 542.39 L1024.51 540.39 L1025.17 539.06 L1026.5 537.73 L1028.5 537.07 L1031.15 536.4 L1032.49 535.74 L1033.15 534.41 L1033.15 533.08 L1032.49 531.75 L1030.49 531.08 L1027.83 531.08" fill="none" stroke="#000" stroke-width="1.35" stroke-linecap="round" stroke-linejoin="round"/>
<line x1="1040.15" y1="82" x2="1040.15" y2="87.8" stroke="#000" stroke-width="1.2" stroke-linecap="butt"/>
<line x1="1040.15" y1="506.9" x2="1040.15" y2="512.7" stroke="#000" stroke-width="1.2" stroke-linecap="butt"/>
<line x1="1061.1" y1="82" x2="1061.1" y2="87.8" stroke="#000" stroke-width="1.2" stroke-linecap="butt"/>
<line x1="1061.1" y1="506.9" x2="1061.1" y2="512.7" stroke="#000" stroke-width="1.2" stroke-linecap="butt"/>
<line x1="1082.05" y1="82" x2="1082.05" y2="87.8" stroke="#000" stroke-width="1.2" stroke-linecap="butt"/>
<line x1="1082.05" y1="506.9" x2="1082.05" y2="512.7" stroke="#000" stroke-width="1.2" stroke-linecap="butt"/>
<line x1="1103" y1="77.4" x2="1103" y2="87.8" stroke="#000" stroke-width="2.3" stroke-linecap="round"/>
<line x1="1103" y1="506.9" x2="1103" y2="517.3" stroke="#000" stroke-width="2.3" stroke-linecap="round"/>
<path d="M1089.38 533.75 L1090.71 533.08 L1092.71 531.08 L1092.71 545.05 M1102 543.72 L1101.34 544.38 L1102 545.05 L1102.67 544.38 L1102 543.72 M1111.3 531.08 L1109.3 531.75 L1107.97 533.75 L1107.31 537.07 L1107.31 539.06 L1107.97 542.39 L1109.3 544.38 L1111.3 545.05 L1112.63 545.05 L1114.62 544.38 L1115.95 542.39 L1116.62 539.06 L1116.62 537.07 L1115.95 533.75 L1114.62 531.75 L1112.63 531.08 L1111.3 531.08" fill="none" stroke="#000" stroke-width="1.35" stroke-linecap="round" stroke-linejoin="round"/>
<path d="M689.89 59.6 L684.1 74.8 M689.89 59.6 L695.68 74.8 M686.27 69.73 L693.51 69.73 M699.52 59.6 L699.52 74.8 M699.52 59.6 L706.03 59.6 L708.21 60.32 L708.93 61.04 L709.65 62.49 L709.65 64.66 L708.93 66.11 L708.21 66.84 L706.03 67.56 L699.52 67.56 M714.95 59.6 L714.95 74.8 M714.95 59.6 L721.47 59.6 L723.64 60.32 L724.37 61.04 L725.09 62.49 L725.09 63.94 L724.37 65.39 L723.64 66.11 L721.47 66.84 L714.95 66.84 M720.02 66.84 L725.09 74.8" fill="none" stroke="#000" stroke-width="1.45" stroke-linecap="round" stroke-linejoin="round"/>
<path d="M745.21 563.91 L743.5 562.2 L740.93 561.34 L737.51 561.34 L734.95 562.2 L733.24 563.91 L733.24 565.62 L734.09 567.33 L734.95 568.18 L736.66 569.04 L741.79 570.75 L743.5 571.6 L744.35 572.46 L745.21 574.17 L745.21 576.73 L743.5 578.44 L740.93 579.3 L737.51 579.3 L734.95 578.44 L733.24 576.73 M750.76 567.33 L750.76 585.28 M750.76 569.89 L752.47 568.18 L754.18 567.33 L756.75 567.33 L758.46 568.18 L760.17 569.89 L761.02 572.46 L761.02 574.17 L760.17 576.73 L758.46 578.44 L756.75 579.3 L754.18 579.3 L752.47 578.44 L750.76 576.73 M765.75 572.46 L776.01 572.46 L776.01 570.75 L775.15 569.04 L774.3 568.18 L772.59 567.33 L770.02 567.33 L768.31 568.18 L766.6 569.89 L765.75 572.46 L765.75 574.17 L766.6 576.73 L768.31 578.44 L770.02 579.3 L772.59 579.3 L774.3 578.44 L776.01 576.73 M791 569.89 L789.29 568.18 L787.58 567.33 L785.02 567.33 L783.31 568.18 L781.6 569.89 L780.74 572.46 L780.74 574.17 L781.6 576.73 L783.31 578.44 L785.02 579.3 L787.58 579.3 L789.29 578.44 L791 576.73 M795.84 561.34 L796.7 562.2 L797.55 561.34 L796.7 560.49 L795.84 561.34 M796.7 567.33 L796.7 579.3 M808.45 561.34 L806.74 561.34 L805.03 562.2 L804.17 564.76 L804.17 579.3 M801.61 567.33 L807.59 567.33 M812.5 561.34 L813.36 562.2 L814.21 561.34 L813.36 560.49 L812.5 561.34 M813.36 567.33 L813.36 579.3 M829.32 569.89 L827.61 568.18 L825.9 567.33 L823.33 567.33 L821.62 568.18 L819.91 569.89 L819.06 572.46 L819.06 574.17 L819.91 576.73 L821.62 578.44 L823.33 579.3 L825.9 579.3 L827.61 578.44 L829.32 576.73 M848.19 561.34 L848.19 579.3 M860.16 561.34 L860.16 579.3 M848.19 569.89 L860.16 569.89 M866.55 567.33 L866.55 575.88 L867.41 578.44 L869.12 579.3 L871.68 579.3 L873.39 578.44 L875.96 575.88 M875.96 567.33 L875.96 579.3 M882.26 567.33 L882.26 579.3 M882.26 570.75 L884.82 568.18 L886.53 567.33 L889.1 567.33 L890.81 568.18 L891.66 570.75 L891.66 579.3 M891.66 570.75 L894.23 568.18 L895.94 567.33 L898.5 567.33 L900.21 568.18 L901.07 570.75 L901.07 579.3 M906.63 561.34 L907.49 562.2 L908.34 561.34 L907.49 560.49 L906.63 561.34 M907.49 567.33 L907.49 579.3 M923.44 561.34 L923.44 579.3 M923.44 569.89 L921.73 568.18 L920.02 567.33 L917.45 567.33 L915.74 568.18 L914.03 569.89 L913.18 572.46 L913.18 574.17 L914.03 576.73 L915.74 578.44 L917.45 579.3 L920.02 579.3 L921.73 578.44 L923.44 576.73 M929.12 561.34 L929.98 562.2 L930.83 561.34 L929.98 560.49 L929.12 561.34 M929.98 567.33 L929.98 579.3 M937.45 561.34 L937.45 575.88 L938.31 578.44 L940.02 579.3 L941.73 579.3 M934.89 567.33 L940.87 567.33 M944.84 567.33 L949.97 579.3 M955.1 567.33 L949.97 579.3 L948.26 582.72 L946.55 584.43 L944.84 585.28 L943.99 585.28 M979.21 557.92 L977.5 559.63 L975.79 562.2 L974.08 565.62 L973.23 569.89 L973.23 573.31 L974.08 577.59 L975.79 581.01 L977.5 583.57 L979.21 585.28 M994.24 567.33 L994.24 581.01 L993.39 583.57 L992.53 584.43 L990.82 585.28 L988.26 585.28 L986.55 584.43 M994.24 569.89 L992.53 568.18 L990.82 567.33 L988.26 567.33 L986.55 568.18 L984.84 569.89 L983.98 572.46 L983.98 574.17 L984.84 576.73 L986.55 578.44 L988.26 579.3 L990.82 579.3 L992.53 578.44 L994.24 576.73 M1014.31 557.92 L998.92 585.28 M1019.01 561.34 L1019.01 579.3 M1027.56 567.33 L1019.01 575.88 M1022.43 572.46 L1028.42 579.3 M1042.56 567.33 L1042.56 581.01 L1041.7 583.57 L1040.85 584.43 L1039.14 585.28 L1036.57 585.28 L1034.86 584.43 M1042.56 569.89 L1040.85 568.18 L1039.14 567.33 L1036.57 567.33 L1034.86 568.18 L1033.15 569.89 L1032.3 572.46 L1032.3 574.17 L1033.15 576.73 L1034.86 578.44 L1036.57 579.3 L1039.14 579.3 L1040.85 578.44 L1042.56 576.73 M1048.18 557.92 L1049.89 559.63 L1051.6 562.2 L1053.31 565.62 L1054.16 569.89 L1054.16 573.31 L1053.31 577.59 L1051.6 581.01 L1049.89 583.57 L1048.18 585.28" fill="none" stroke="#000" stroke-width="1.5" stroke-linecap="round" stroke-linejoin="round"/>
<circle cx="132.6" cy="648.8" r="4.2" fill="#b03060"/>
<circle cx="134" cy="674.2" r="4.2" fill="#b03060"/>
<circle cx="139.3" cy="699.6" r="4.2" fill="#b03060"/>
<circle cx="144.6" cy="725" r="4.2" fill="#b03060"/>
<circle cx="156.4" cy="750.4" r="4.2" fill="#b03060"/>
<circle cx="172.3" cy="775.8" r="4.2" fill="#b03060"/>
<circle cx="192" cy="801.2" r="4.2" fill="#b03060"/>
<circle cx="215" cy="826.6" r="4.2" fill="#b03060"/>
<circle cx="239.3" cy="852" r="4.2" fill="#b03060"/>
<circle cx="267.3" cy="877.4" r="4.2" fill="#b03060"/>
<circle cx="298" cy="902.8" r="4.2" fill="#b03060"/>
<circle cx="329.9" cy="928.2" r="4.2" fill="#b03060"/>
<circle cx="357.4" cy="953.6" r="4.2" fill="#b03060"/>
<circle cx="385.9" cy="979" r="4.2" fill="#b03060"/>
<circle cx="415.5" cy="1004.4" r="4.2" fill="#b03060"/>
<circle cx="422.1" cy="1029.8" r="4.2" fill="#b03060"/>
<polyline points="123.8,639.1 125.6,658.5 129.1,681.4 137.9,709.6 155.5,739.5 184.9,775.7 217.8,815.6 252.7,854.3 288.1,890.4 327.4,915.1 378.1,946.5 401.1,964.6 417,979.6 434.6,989.3 454.8,997.7" fill="none" stroke="#f00" stroke-width="2.3" stroke-dasharray="8.9 4.2" stroke-linecap="round" stroke-linejoin="round"/>
<polyline points="123.8,637.7 126.5,658.5 131.2,681.4 140.6,707.8 159.9,739.2 193.1,775.7 236.3,815.5 284.6,854.3 329.5,887.8 371.5,915 396.7,932.9 412.6,947 440.7,967.2 454,978.7 466.3,988.4 481.8,996.3" fill="none" stroke="#00f" stroke-width="2.3" stroke-linecap="round" stroke-linejoin="round"/>
<rect x="121.6" y="623.4" width="419" height="419.1" fill="none" stroke="#000" stroke-width="2.3"/>
<line x1="111.2" y1="623.4" x2="121.6" y2="623.4" stroke="#000" stroke-width="2.3" stroke-linecap="round"/>
<line x1="540.6" y1="623.4" x2="551" y2="623.4" stroke="#000" stroke-width="2.3" stroke-linecap="round"/>
<path d="M62.39 619.76 L62.39 619.1 L63.06 617.76 L63.72 617.1 L65.05 616.43 L67.71 616.43 L69.04 617.1 L69.71 617.76 L70.37 619.1 L70.37 620.42 L69.71 621.75 L68.38 623.75 L61.73 630.4 L71.04 630.4 M79 616.43 L77 617.1 L75.67 619.1 L75.01 622.42 L75.01 624.41 L75.67 627.74 L77 629.74 L79 630.4 L80.33 630.4 L82.32 629.74 L83.66 627.74 L84.32 624.41 L84.32 622.42 L83.66 619.1 L82.32 617.1 L80.33 616.43 L79 616.43 M92.28 616.43 L90.28 617.1 L88.95 619.1 L88.29 622.42 L88.29 624.41 L88.95 627.74 L90.28 629.74 L92.28 630.4 L93.61 630.4 L95.6 629.74 L96.94 627.74 L97.6 624.41 L97.6 622.42 L96.94 619.1 L95.6 617.1 L93.61 616.43 L92.28 616.43" fill="none" stroke="#000" stroke-width="1.35" stroke-linecap="round" stroke-linejoin="round"/>
<line x1="115.8" y1="648.8" x2="121.6" y2="648.8" stroke="#000" stroke-width="1.2" stroke-linecap="butt"/>
<line x1="540.6" y1="648.8" x2="546.4" y2="648.8" stroke="#000" stroke-width="1.2" stroke-linecap="butt"/>
<line x1="115.8" y1="674.2" x2="121.6" y2="674.2" stroke="#000" stroke-width="1.2" stroke-linecap="butt"/>
<line x1="540.6" y1="674.2" x2="546.4" y2="674.2" stroke="#000" stroke-width="1.2" stroke-linecap="butt"/>
<line x1="115.8" y1="699.6" x2="121.6" y2="699.6" stroke="#000" stroke-width="1.2" stroke-linecap="butt"/>
<line x1="540.6" y1="699.6" x2="546.4" y2="699.6" stroke="#000" stroke-width="1.2" stroke-linecap="butt"/>
<line x1="111.2" y1="725" x2="121.6" y2="725" stroke="#000" stroke-width="2.3" stroke-linecap="round"/>
<line x1="540.6" y1="725" x2="551" y2="725" stroke="#000" stroke-width="2.3" stroke-linecap="round"/>
<path d="M68.38 718.03 L61.73 727.35 L71.7 727.35 M68.38 718.03 L68.38 732 M79 718.03 L77 718.7 L75.67 720.7 L75.01 724.02 L75.01 726.01 L75.67 729.34 L77 731.34 L79 732 L80.33 732 L82.32 731.34 L83.66 729.34 L84.32 726.01 L84.32 724.02 L83.66 720.7 L82.32 718.7 L80.33 718.03 L79 718.03 M92.28 718.03 L90.28 718.7 L88.95 720.7 L88.29 724.02 L88.29 726.01 L88.95 729.34 L90.28 731.34 L92.28 732 L93.61 732 L95.6 731.34 L96.94 729.34 L97.6 726.01 L97.6 724.02 L96.94 720.7 L95.6 718.7 L93.61 718.03 L92.28 718.03" fill="none" stroke="#000" stroke-width="1.35" stroke-linecap="round" stroke-linejoin="round"/>
<line x1="115.8" y1="750.4" x2="121.6" y2="750.4" stroke="#000" stroke-width="1.2" stroke-linecap="butt"/>
<line x1="540.6" y1="750.4" x2="546.4" y2="750.4" stroke="#000" stroke-width="1.2" stroke-linecap="butt"/>
<line x1="115.8" y1="775.8" x2="121.6" y2="775.8" stroke="#000" stroke-width="1.2" stroke-linecap="butt"/>
<line x1="540.6" y1="775.8" x2="546.4" y2="775.8" stroke="#000" stroke-width="1.2" stroke-linecap="butt"/>
<line x1="115.8" y1="801.2" x2="121.6" y2="801.2" stroke="#000" stroke-width="1.2" stroke-linecap="butt"/>
<line x1="540.6" y1="801.2" x2="546.4" y2="801.2" stroke="#000" stroke-width="1.2" stroke-linecap="butt"/>
<line x1="111.2" y1="826.6" x2="121.6" y2="826.6" stroke="#000" stroke-width="2.3" stroke-linecap="round"/>
<line x1="540.6" y1="826.6" x2="551" y2="826.6" stroke="#000" stroke-width="2.3" stroke-linecap="round"/>
<path d="M70.37 821.63 L69.71 820.3 L67.71 819.63 L66.38 819.63 L64.39 820.3 L63.06 822.29 L62.39 825.62 L62.39 828.94 L63.06 831.6 L64.39 832.93 L66.38 833.6 L67.05 833.6 L69.04 832.93 L70.37 831.6 L71.04 829.61 L71.04 828.94 L70.37 826.95 L69.04 825.62 L67.05 824.95 L66.38 824.95 L64.39 825.62 L63.06 826.95 L62.39 828.94 M79 819.63 L77 820.3 L75.67 822.29 L75.01 825.62 L75.01 827.61 L75.67 830.94 L77 832.93 L79 833.6 L80.33 833.6 L82.32 832.93 L83.66 830.94 L84.32 827.61 L84.32 825.62 L83.66 822.29 L82.32 820.3 L80.33 819.63 L79 819.63 M92.28 819.63 L90.28 820.3 L88.95 822.29 L88.29 825.62 L88.29 827.61 L88.95 830.94 L90.28 832.93 L92.28 833.6 L93.61 833.6 L95.6 832.93 L96.94 830.94 L97.6 827.61 L97.6 825.62 L96.94 822.29 L95.6 820.3 L93.61 819.63 L92.28 819.63" fill="none" stroke="#000" stroke-width="1.35" stroke-linecap="round" stroke-linejoin="round"/>
<line x1="115.8" y1="852" x2="121.6" y2="852" stroke="#000" stroke-width="1.2" stroke-linecap="butt"/>
<line x1="540.6" y1="852" x2="546.4" y2="852" stroke="#000" stroke-width="1.2" stroke-linecap="butt"/>
<line x1="115.8" y1="877.4" x2="121.6" y2="877.4" stroke="#000" stroke-width="1.2" stroke-linecap="butt"/>
<line x1="540.6" y1="877.4" x2="546.4" y2="877.4" stroke="#000" stroke-width="1.2" stroke-linecap="butt"/>
<line x1="115.8" y1="902.8" x2="121.6" y2="902.8" stroke="#000" stroke-width="1.2" stroke-linecap="butt"/>
<line x1="540.6" y1="902.8" x2="546.4" y2="902.8" stroke="#000" stroke-width="1.2" stroke-linecap="butt"/>
<line x1="111.2" y1="928.2" x2="121.6" y2="928.2" stroke="#000" stroke-width="2.3" stroke-linecap="round"/>
<line x1="540.6" y1="928.2" x2="551" y2="928.2" stroke="#000" stroke-width="2.3" stroke-linecap="round"/>
<path d="M65.05 921.24 L63.06 921.9 L62.39 923.23 L62.39 924.56 L63.06 925.89 L64.39 926.56 L67.05 927.22 L69.04 927.88 L70.37 929.22 L71.04 930.55 L71.04 932.54 L70.37 933.87 L69.71 934.54 L67.71 935.2 L65.05 935.2 L63.06 934.54 L62.39 933.87 L61.73 932.54 L61.73 930.55 L62.39 929.22 L63.72 927.88 L65.72 927.22 L68.38 926.56 L69.71 925.89 L70.37 924.56 L70.37 923.23 L69.71 921.9 L67.71 921.24 L65.05 921.24 M79 921.24 L77 921.9 L75.67 923.9 L75.01 927.22 L75.01 929.22 L75.67 932.54 L77 934.54 L79 935.2 L80.33 935.2 L82.32 934.54 L83.66 932.54 L84.32 929.22 L84.32 927.22 L83.66 923.9 L82.32 921.9 L80.33 921.24 L79 921.24 M92.28 921.24 L90.28 921.9 L88.95 923.9 L88.29 927.22 L88.29 929.22 L88.95 932.54 L90.28 934.54 L92.28 935.2 L93.61 935.2 L95.6 934.54 L96.94 932.54 L97.6 929.22 L97.6 927.22 L96.94 923.9 L95.6 921.9 L93.61 921.24 L92.28 921.24" fill="none" stroke="#000" stroke-width="1.35" stroke-linecap="round" stroke-linejoin="round"/>
<line x1="115.8" y1="953.6" x2="121.6" y2="953.6" stroke="#000" stroke-width="1.2" stroke-linecap="butt"/>
<line x1="540.6" y1="953.6" x2="546.4" y2="953.6" stroke="#000" stroke-width="1.2" stroke-linecap="butt"/>
<line x1="115.8" y1="979" x2="121.6" y2="979" stroke="#000" stroke-width="1.2" stroke-linecap="butt"/>
<line x1="540.6" y1="979" x2="546.4" y2="979" stroke="#000" stroke-width="1.2" stroke-linecap="butt"/>
<line x1="115.8" y1="1004.4" x2="121.6" y2="1004.4" stroke="#000" stroke-width="1.2" stroke-linecap="butt"/>
<line x1="540.6" y1="1004.4" x2="546.4" y2="1004.4" stroke="#000" stroke-width="1.2" stroke-linecap="butt"/>
<line x1="111.2" y1="1029.8" x2="121.6" y2="1029.8" stroke="#000" stroke-width="2.3" stroke-linecap="round"/>
<line x1="540.6" y1="1029.8" x2="551" y2="1029.8" stroke="#000" stroke-width="2.3" stroke-linecap="round"/>
<path d="M50.44 1025.49 L51.77 1024.83 L53.77 1022.83 L53.77 1036.8 M65.72 1022.83 L63.72 1023.5 L62.39 1025.49 L61.73 1028.82 L61.73 1030.82 L62.39 1034.14 L63.72 1036.13 L65.72 1036.8 L67.05 1036.8 L69.04 1036.13 L70.38 1034.14 L71.04 1030.82 L71.04 1028.82 L70.38 1025.49 L69.04 1023.5 L67.05 1022.83 L65.72 1022.83 M79 1022.83 L77 1023.5 L75.67 1025.49 L75.01 1028.82 L75.01 1030.82 L75.67 1034.14 L77 1036.13 L79 1036.8 L80.33 1036.8 L82.32 1036.13 L83.66 1034.14 L84.32 1030.82 L84.32 1028.82 L83.66 1025.49 L82.32 1023.5 L80.33 1022.83 L79 1022.83 M92.28 1022.83 L90.28 1023.5 L88.95 1025.49 L88.29 1028.82 L88.29 1030.82 L88.95 1034.14 L90.28 1036.13 L92.28 1036.8 L93.61 1036.8 L95.6 1036.13 L96.94 1034.14 L97.6 1030.82 L97.6 1028.82 L96.94 1025.49 L95.6 1023.5 L93.61 1022.83 L92.28 1022.83" fill="none" stroke="#000" stroke-width="1.35" stroke-linecap="round" stroke-linejoin="round"/>
<line x1="121.6" y1="613" x2="121.6" y2="623.4" stroke="#000" stroke-width="2.3" stroke-linecap="round"/>
<line x1="121.6" y1="1042.5" x2="121.6" y2="1052.9" stroke="#000" stroke-width="2.3" stroke-linecap="round"/>
<path d="M110.97 1066.69 L108.98 1067.35 L107.65 1069.35 L106.98 1072.67 L106.98 1074.67 L107.65 1077.99 L108.98 1079.99 L110.97 1080.65 L112.31 1080.65 L114.3 1079.99 L115.63 1077.99 L116.3 1074.67 L116.3 1072.67 L115.63 1069.35 L114.3 1067.35 L112.31 1066.69 L110.97 1066.69 M121.6 1079.32 L120.94 1079.99 L121.6 1080.65 L122.27 1079.99 L121.6 1079.32 M130.9 1066.69 L128.9 1067.35 L127.57 1069.35 L126.91 1072.67 L126.91 1074.67 L127.57 1077.99 L128.9 1079.99 L130.9 1080.65 L132.22 1080.65 L134.22 1079.99 L135.55 1077.99 L136.22 1074.67 L136.22 1072.67 L135.55 1069.35 L134.22 1067.35 L132.22 1066.69 L130.9 1066.69" fill="none" stroke="#000" stroke-width="1.35" stroke-linecap="round" stroke-linejoin="round"/>
<line x1="138.36" y1="617.6" x2="138.36" y2="623.4" stroke="#000" stroke-width="1.2" stroke-linecap="butt"/>
<line x1="138.36" y1="1042.5" x2="138.36" y2="1048.3" stroke="#000" stroke-width="1.2" stroke-linecap="butt"/>
<line x1="155.12" y1="617.6" x2="155.12" y2="623.4" stroke="#000" stroke-width="1.2" stroke-linecap="butt"/>
<line x1="155.12" y1="1042.5" x2="155.12" y2="1048.3" stroke="#000" stroke-width="1.2" stroke-linecap="butt"/>
<line x1="171.88" y1="617.6" x2="171.88" y2="623.4" stroke="#000" stroke-width="1.2" stroke-linecap="butt"/>
<line x1="171.88" y1="1042.5" x2="171.88" y2="1048.3" stroke="#000" stroke-width="1.2" stroke-linecap="butt"/>
<line x1="188.64" y1="617.6" x2="188.64" y2="623.4" stroke="#000" stroke-width="1.2" stroke-linecap="butt"/>
<line x1="188.64" y1="1042.5" x2="188.64" y2="1048.3" stroke="#000" stroke-width="1.2" stroke-linecap="butt"/>
<line x1="205.4" y1="613" x2="205.4" y2="623.4" stroke="#000" stroke-width="2.3" stroke-linecap="round"/>
<line x1="205.4" y1="1042.5" x2="205.4" y2="1052.9" stroke="#000" stroke-width="2.3" stroke-linecap="round"/>
<path d="M191.78 1069.35 L193.11 1068.68 L195.11 1066.69 L195.11 1080.65 M204.4 1079.32 L203.74 1079.99 L204.4 1080.65 L205.07 1079.99 L204.4 1079.32 M213.7 1066.69 L211.7 1067.35 L210.37 1069.35 L209.71 1072.67 L209.71 1074.67 L210.37 1077.99 L211.7 1079.99 L213.7 1080.65 L215.03 1080.65 L217.02 1079.99 L218.35 1077.99 L219.02 1074.67 L219.02 1072.67 L218.35 1069.35 L217.02 1067.35 L215.03 1066.69 L213.7 1066.69" fill="none" stroke="#000" stroke-width="1.35" stroke-linecap="round" stroke-linejoin="round"/>
<line x1="222.16" y1="617.6" x2="222.16" y2="623.4" stroke="#000" stroke-width="1.2" stroke-linecap="butt"/>
<line x1="222.16" y1="1042.5" x2="222.16" y2="1048.3" stroke="#000" stroke-width="1.2" stroke-linecap="butt"/>
<line x1="238.92" y1="617.6" x2="238.92" y2="623.4" stroke="#000" stroke-width="1.2" stroke-linecap="butt"/>
<line x1="238.92" y1="1042.5" x2="238.92" y2="1048.3" stroke="#000" stroke-width="1.2" stroke-linecap="butt"/>
<line x1="255.68" y1="617.6" x2="255.68" y2="623.4" stroke="#000" stroke-width="1.2" stroke-linecap="butt"/>
<line x1="255.68" y1="1042.5" x2="255.68" y2="1048.3" stroke="#000" stroke-width="1.2" stroke-linecap="butt"/>
<line x1="272.44" y1="617.6" x2="272.44" y2="623.4" stroke="#000" stroke-width="1.2" stroke-linecap="butt"/>
<line x1="272.44" y1="1042.5" x2="272.44" y2="1048.3" stroke="#000" stroke-width="1.2" stroke-linecap="butt"/>
<line x1="289.2" y1="613" x2="289.2" y2="623.4" stroke="#000" stroke-width="2.3" stroke-linecap="round"/>
<line x1="289.2" y1="1042.5" x2="289.2" y2="1052.9" stroke="#000" stroke-width="2.3" stroke-linecap="round"/>
<path d="M275.25 1070.01 L275.25 1069.35 L275.91 1068.02 L276.58 1067.35 L277.91 1066.69 L280.57 1066.69 L281.9 1067.35 L282.56 1068.02 L283.23 1069.35 L283.23 1070.68 L282.56 1072.01 L281.23 1074 L274.58 1080.65 L283.89 1080.65 M289.2 1079.32 L288.53 1079.99 L289.2 1080.65 L289.86 1079.99 L289.2 1079.32 M298.49 1066.69 L296.5 1067.35 L295.17 1069.35 L294.5 1072.67 L294.5 1074.67 L295.17 1077.99 L296.5 1079.99 L298.49 1080.65 L299.82 1080.65 L301.82 1079.99 L303.15 1077.99 L303.81 1074.67 L303.81 1072.67 L303.15 1069.35 L301.82 1067.35 L299.82 1066.69 L298.49 1066.69" fill="none" stroke="#000" stroke-width="1.35" stroke-linecap="round" stroke-linejoin="round"/>
<line x1="305.96" y1="617.6" x2="305.96" y2="623.4" stroke="#000" stroke-width="1.2" stroke-linecap="butt"/>
<line x1="305.96" y1="1042.5" x2="305.96" y2="1048.3" stroke="#000" stroke-width="1.2" stroke-linecap="butt"/>
<line x1="322.72" y1="617.6" x2="322.72" y2="623.4" stroke="#000" stroke-width="1.2" stroke-linecap="butt"/>
<line x1="322.72" y1="1042.5" x2="322.72" y2="1048.3" stroke="#000" stroke-width="1.2" stroke-linecap="butt"/>
<line x1="339.48" y1="617.6" x2="339.48" y2="623.4" stroke="#000" stroke-width="1.2" stroke-linecap="butt"/>
<line x1="339.48" y1="1042.5" x2="339.48" y2="1048.3" stroke="#000" stroke-width="1.2" stroke-linecap="butt"/>
<line x1="356.24" y1="617.6" x2="356.24" y2="623.4" stroke="#000" stroke-width="1.2" stroke-linecap="butt"/>
<line x1="356.24" y1="1042.5" x2="356.24" y2="1048.3" stroke="#000" stroke-width="1.2" stroke-linecap="butt"/>
<line x1="373" y1="613" x2="373" y2="623.4" stroke="#000" stroke-width="2.3" stroke-linecap="round"/>
<line x1="373" y1="1042.5" x2="373" y2="1052.9" stroke="#000" stroke-width="2.3" stroke-linecap="round"/>
<path d="M359.71 1066.69 L367.03 1066.69 L363.04 1072.01 L365.03 1072.01 L366.36 1072.67 L367.03 1073.34 L367.69 1075.33 L367.69 1076.66 L367.03 1078.66 L365.7 1079.99 L363.7 1080.65 L361.71 1080.65 L359.71 1079.99 L359.05 1079.32 L358.38 1077.99 M373 1079.32 L372.33 1079.99 L373 1080.65 L373.66 1079.99 L373 1079.32 M382.29 1066.69 L380.3 1067.35 L378.97 1069.35 L378.3 1072.67 L378.3 1074.67 L378.97 1077.99 L380.3 1079.99 L382.29 1080.65 L383.62 1080.65 L385.62 1079.99 L386.95 1077.99 L387.62 1074.67 L387.62 1072.67 L386.95 1069.35 L385.62 1067.35 L383.62 1066.69 L382.29 1066.69" fill="none" stroke="#000" stroke-width="1.35" stroke-linecap="round" stroke-linejoin="round"/>
<line x1="389.76" y1="617.6" x2="389.76" y2="623.4" stroke="#000" stroke-width="1.2" stroke-linecap="butt"/>
<line x1="389.76" y1="1042.5" x2="389.76" y2="1048.3" stroke="#000" stroke-width="1.2" stroke-linecap="butt"/>
<line x1="406.52" y1="617.6" x2="406.52" y2="623.4" stroke="#000" stroke-width="1.2" stroke-linecap="butt"/>
<line x1="406.52" y1="1042.5" x2="406.52" y2="1048.3" stroke="#000" stroke-width="1.2" stroke-linecap="butt"/>
<line x1="423.28" y1="617.6" x2="423.28" y2="623.4" stroke="#000" stroke-width="1.2" stroke-linecap="butt"/>
<line x1="423.28" y1="1042.5" x2="423.28" y2="1048.3" stroke="#000" stroke-width="1.2" stroke-linecap="butt"/>
<line x1="440.04" y1="617.6" x2="440.04" y2="623.4" stroke="#000" stroke-width="1.2" stroke-linecap="butt"/>
<line x1="440.04" y1="1042.5" x2="440.04" y2="1048.3" stroke="#000" stroke-width="1.2" stroke-linecap="butt"/>
<line x1="456.8" y1="613" x2="456.8" y2="623.4" stroke="#000" stroke-width="2.3" stroke-linecap="round"/>
<line x1="456.8" y1="1042.5" x2="456.8" y2="1052.9" stroke="#000" stroke-width="2.3" stroke-linecap="round"/>
<path d="M448.83 1066.69 L442.18 1076 L452.16 1076 M448.83 1066.69 L448.83 1080.65 M456.8 1079.32 L456.13 1079.99 L456.8 1080.65 L457.46 1079.99 L456.8 1079.32 M466.09 1066.69 L464.1 1067.35 L462.77 1069.35 L462.1 1072.67 L462.1 1074.67 L462.77 1077.99 L464.1 1079.99 L466.09 1080.65 L467.42 1080.65 L469.42 1079.99 L470.75 1077.99 L471.41 1074.67 L471.41 1072.67 L470.75 1069.35 L469.42 1067.35 L467.42 1066.69 L466.09 1066.69" fill="none" stroke="#000" stroke-width="1.35" stroke-linecap="round" stroke-linejoin="round"/>
<line x1="473.56" y1="617.6" x2="473.56" y2="623.4" stroke="#000" stroke-width="1.2" stroke-linecap="butt"/>
<line x1="473.56" y1="1042.5" x2="473.56" y2="1048.3" stroke="#000" stroke-width="1.2" stroke-linecap="butt"/>
<line x1="490.32" y1="617.6" x2="490.32" y2="623.4" stroke="#000" stroke-width="1.2" stroke-linecap="butt"/>
<line x1="490.32" y1="1042.5" x2="490.32" y2="1048.3" stroke="#000" stroke-width="1.2" stroke-linecap="butt"/>
<line x1="507.08" y1="617.6" x2="507.08" y2="623.4" stroke="#000" stroke-width="1.2" stroke-linecap="butt"/>
<line x1="507.08" y1="1042.5" x2="507.08" y2="1048.3" stroke="#000" stroke-width="1.2" stroke-linecap="butt"/>
<line x1="523.84" y1="617.6" x2="523.84" y2="623.4" stroke="#000" stroke-width="1.2" stroke-linecap="butt"/>
<line x1="523.84" y1="1042.5" x2="523.84" y2="1048.3" stroke="#000" stroke-width="1.2" stroke-linecap="butt"/>
<line x1="540.6" y1="613" x2="540.6" y2="623.4" stroke="#000" stroke-width="2.3" stroke-linecap="round"/>
<line x1="540.6" y1="1042.5" x2="540.6" y2="1052.9" stroke="#000" stroke-width="2.3" stroke-linecap="round"/>
<path d="M533.97 1066.69 L527.32 1066.69 L526.65 1072.67 L527.32 1072.01 L529.31 1071.34 L531.3 1071.34 L533.3 1072.01 L534.63 1073.34 L535.29 1075.33 L535.29 1076.66 L534.63 1078.66 L533.3 1079.99 L531.3 1080.65 L529.31 1080.65 L527.32 1079.99 L526.65 1079.32 L525.99 1077.99 M540.6 1079.32 L539.93 1079.99 L540.6 1080.65 L541.26 1079.99 L540.6 1079.32 M549.89 1066.69 L547.9 1067.35 L546.57 1069.35 L545.9 1072.67 L545.9 1074.67 L546.57 1077.99 L547.9 1079.99 L549.89 1080.65 L551.23 1080.65 L553.22 1079.99 L554.55 1077.99 L555.22 1074.67 L555.22 1072.67 L554.55 1069.35 L553.22 1067.35 L551.23 1066.69 L549.89 1066.69" fill="none" stroke="#000" stroke-width="1.35" stroke-linecap="round" stroke-linejoin="round"/>
<path d="M128.24 595.2 L128.24 606.78 L127.52 608.95 L126.79 609.68 L125.34 610.4 L123.9 610.4 L122.45 609.68 L121.72 608.95 L121 606.78 L121 605.33 M134.24 595.2 L134.24 606.06 L134.97 608.23 L136.41 609.68 L138.59 610.4 L140.03 610.4 L142.2 609.68 L143.65 608.23 L144.38 606.06 L144.38 595.2 M150.38 595.2 L150.38 610.4 M150.38 610.4 L159.07 610.4" fill="none" stroke="#000" stroke-width="1.45" stroke-linecap="round" stroke-linejoin="round"/>
<path d="M182.81 1099.51 L181.1 1097.8 L178.53 1096.95 L175.11 1096.95 L172.55 1097.8 L170.84 1099.51 L170.84 1101.22 L171.69 1102.93 L172.55 1103.79 L174.26 1104.64 L179.39 1106.35 L181.1 1107.21 L181.95 1108.06 L182.81 1109.77 L182.81 1112.34 L181.1 1114.05 L178.53 1114.9 L175.11 1114.9 L172.55 1114.05 L170.84 1112.34 M188.36 1102.93 L188.36 1120.88 M188.36 1105.5 L190.07 1103.79 L191.78 1102.93 L194.35 1102.93 L196.06 1103.79 L197.77 1105.5 L198.62 1108.06 L198.62 1109.77 L197.77 1112.34 L196.06 1114.05 L194.35 1114.9 L191.78 1114.9 L190.07 1114.05 L188.36 1112.34 M203.35 1108.06 L213.61 1108.06 L213.61 1106.35 L212.75 1104.64 L211.9 1103.79 L210.19 1102.93 L207.62 1102.93 L205.91 1103.79 L204.2 1105.5 L203.35 1108.06 L203.35 1109.77 L204.2 1112.34 L205.91 1114.05 L207.62 1114.9 L210.19 1114.9 L211.9 1114.05 L213.61 1112.34 M228.6 1105.5 L226.89 1103.79 L225.18 1102.93 L222.62 1102.93 L220.91 1103.79 L219.2 1105.5 L218.34 1108.06 L218.34 1109.77 L219.2 1112.34 L220.91 1114.05 L222.62 1114.9 L225.18 1114.9 L226.89 1114.05 L228.6 1112.34 M233.44 1096.95 L234.3 1097.8 L235.15 1096.95 L234.3 1096.09 L233.44 1096.95 M234.3 1102.93 L234.3 1114.9 M246.05 1096.95 L244.34 1096.95 L242.63 1097.8 L241.77 1100.37 L241.77 1114.9 M239.21 1102.93 L245.19 1102.93 M250.1 1096.95 L250.96 1097.8 L251.81 1096.95 L250.96 1096.09 L250.1 1096.95 M250.96 1102.93 L250.96 1114.9 M266.92 1105.5 L265.21 1103.79 L263.5 1102.93 L260.93 1102.93 L259.22 1103.79 L257.51 1105.5 L256.66 1108.06 L256.66 1109.77 L257.51 1112.34 L259.22 1114.05 L260.93 1114.9 L263.5 1114.9 L265.21 1114.05 L266.92 1112.34 M285.79 1096.95 L285.79 1114.9 M297.76 1096.95 L297.76 1114.9 M285.79 1105.5 L297.76 1105.5 M304.15 1102.93 L304.15 1111.48 L305.01 1114.05 L306.72 1114.9 L309.28 1114.9 L310.99 1114.05 L313.56 1111.48 M313.56 1102.93 L313.56 1114.9 M319.86 1102.93 L319.86 1114.9 M319.86 1106.35 L322.42 1103.79 L324.13 1102.93 L326.7 1102.93 L328.41 1103.79 L329.26 1106.35 L329.26 1114.9 M329.26 1106.35 L331.83 1103.79 L333.54 1102.93 L336.1 1102.93 L337.81 1103.79 L338.67 1106.35 L338.67 1114.9 M344.23 1096.95 L345.09 1097.8 L345.94 1096.95 L345.09 1096.09 L344.23 1096.95 M345.09 1102.93 L345.09 1114.9 M361.04 1096.95 L361.04 1114.9 M361.04 1105.5 L359.33 1103.79 L357.62 1102.93 L355.05 1102.93 L353.34 1103.79 L351.63 1105.5 L350.78 1108.06 L350.78 1109.77 L351.63 1112.34 L353.34 1114.05 L355.05 1114.9 L357.62 1114.9 L359.33 1114.05 L361.04 1112.34 M366.72 1096.95 L367.58 1097.8 L368.43 1096.95 L367.58 1096.09 L366.72 1096.95 M367.58 1102.93 L367.58 1114.9 M375.05 1096.95 L375.05 1111.48 L375.91 1114.05 L377.62 1114.9 L379.33 1114.9 M372.49 1102.93 L378.47 1102.93 M382.44 1102.93 L387.57 1114.9 M392.7 1102.93 L387.57 1114.9 L385.86 1118.32 L384.15 1120.03 L382.44 1120.88 L381.59 1120.88 M416.81 1093.53 L415.1 1095.24 L413.39 1097.8 L411.68 1101.22 L410.83 1105.5 L410.83 1108.92 L411.68 1113.19 L413.39 1116.61 L415.1 1119.18 L416.81 1120.88 M431.84 1102.93 L431.84 1116.61 L430.99 1119.18 L430.13 1120.03 L428.42 1120.88 L425.86 1120.88 L424.15 1120.03 M431.84 1105.5 L430.13 1103.79 L428.42 1102.93 L425.86 1102.93 L424.15 1103.79 L422.44 1105.5 L421.58 1108.06 L421.58 1109.77 L422.44 1112.34 L424.15 1114.05 L425.86 1114.9 L428.42 1114.9 L430.13 1114.05 L431.84 1112.34 M451.91 1093.53 L436.52 1120.88 M456.61 1096.95 L456.61 1114.9 M465.16 1102.93 L456.61 1111.48 M460.03 1108.06 L466.02 1114.9 M480.16 1102.93 L480.16 1116.61 L479.3 1119.18 L478.45 1120.03 L476.74 1120.88 L474.17 1120.88 L472.46 1120.03 M480.16 1105.5 L478.45 1103.79 L476.74 1102.93 L474.17 1102.93 L472.46 1103.79 L470.75 1105.5 L469.9 1108.06 L469.9 1109.77 L470.75 1112.34 L472.46 1114.05 L474.17 1114.9 L476.74 1114.9 L478.45 1114.05 L480.16 1112.34 M485.78 1093.53 L487.49 1095.24 L489.2 1097.8 L490.91 1101.22 L491.76 1105.5 L491.76 1108.92 L490.91 1113.19 L489.2 1116.61 L487.49 1119.18 L485.78 1120.88" fill="none" stroke="#000" stroke-width="1.5" stroke-linecap="round" stroke-linejoin="round"/>
<path d="M13.56 924.74 L31.2 924.74 M13.56 924.74 L13.56 917.18 L14.4 914.66 L15.24 913.82 L16.92 912.98 L19.44 912.98 L21.12 913.82 L21.96 914.66 L22.8 917.18 L22.8 924.74 M19.44 907.19 L31.2 907.19 M24.48 907.19 L21.96 906.35 L20.28 904.67 L19.44 902.99 L19.44 900.47 M24.48 897.18 L24.48 887.1 L22.8 887.1 L21.12 887.94 L20.28 888.78 L19.44 890.46 L19.44 892.98 L20.28 894.66 L21.96 896.34 L24.48 897.18 L26.16 897.18 L28.68 896.34 L30.36 894.66 L31.2 892.98 L31.2 890.46 L30.36 888.78 L28.68 887.1 M21.96 872.91 L20.28 873.75 L19.44 876.27 L19.44 878.79 L20.28 881.31 L21.96 882.15 L23.64 881.31 L24.48 879.63 L25.32 875.43 L26.16 873.75 L27.84 872.91 L28.68 872.91 L30.36 873.75 L31.2 876.27 L31.2 878.79 L30.36 881.31 L28.68 882.15 M21.96 858.72 L20.28 859.56 L19.44 862.08 L19.44 864.6 L20.28 867.12 L21.96 867.96 L23.64 867.12 L24.48 865.44 L25.32 861.24 L26.16 859.56 L27.84 858.72 L28.68 858.72 L30.36 859.56 L31.2 862.08 L31.2 864.6 L30.36 867.12 L28.68 867.96 M19.44 852.93 L27.84 852.93 L30.36 852.09 L31.2 850.41 L31.2 847.89 L30.36 846.21 L27.84 843.69 M19.44 843.69 L31.2 843.69 M19.44 837.05 L31.2 837.05 M24.48 837.05 L21.96 836.21 L20.28 834.53 L19.44 832.85 L19.44 830.33 M24.48 827.04 L24.48 816.96 L22.8 816.96 L21.12 817.8 L20.28 818.64 L19.44 820.32 L19.44 822.84 L20.28 824.52 L21.96 826.2 L24.48 827.04 L26.16 827.04 L28.68 826.2 L30.36 824.52 L31.2 822.84 L31.2 820.32 L30.36 818.64 L28.68 816.96 M10.2 791.92 L11.88 793.6 L14.4 795.28 L17.76 796.96 L21.96 797.8 L25.32 797.8 L29.52 796.96 L32.88 795.28 L35.4 793.6 L37.08 791.92 M19.44 786.15 L31.2 786.15 M22.8 786.15 L20.28 783.63 L19.44 781.95 L19.44 779.43 L20.28 777.75 L22.8 776.91 L31.2 776.91 M22.8 776.91 L20.28 774.39 L19.44 772.71 L19.44 770.19 L20.28 768.51 L22.8 767.67 L31.2 767.67 M13.56 761.08 L31.2 761.08 M21.96 761.08 L20.28 759.4 L19.44 757.72 L19.44 755.2 L20.28 753.52 L21.96 751.84 L24.48 751 L26.16 751 L28.68 751.84 L30.36 753.52 L31.2 755.2 L31.2 757.72 L30.36 759.4 L28.68 761.08 M10.2 746.04 L11.88 744.36 L14.4 742.68 L17.76 741 L21.96 740.16 L25.32 740.16 L29.52 741 L32.88 742.68 L35.4 744.36 L37.08 746.04" fill="none" stroke="#000" stroke-width="1.5" stroke-linecap="round" stroke-linejoin="round"/>
<circle cx="727.9" cy="699.6" r="4.2" fill="#b03060"/>
<circle cx="735.8" cy="725" r="4.2" fill="#b03060"/>
<circle cx="743.7" cy="750.4" r="4.2" fill="#b03060"/>
<circle cx="752.2" cy="775.8" r="4.2" fill="#b03060"/>
<circle cx="767.3" cy="801.2" r="4.2" fill="#b03060"/>
<circle cx="790.6" cy="826.6" r="4.2" fill="#b03060"/>
<circle cx="816.4" cy="852" r="4.2" fill="#b03060"/>
<circle cx="845.5" cy="877.4" r="4.2" fill="#b03060"/>
<circle cx="875.4" cy="902.8" r="4.2" fill="#b03060"/>
<circle cx="908" cy="928.2" r="4.2" fill="#b03060"/>
<circle cx="940.3" cy="953.6" r="4.2" fill="#b03060"/>
<circle cx="975.7" cy="979" r="4.2" fill="#b03060"/>
<circle cx="1003.7" cy="1004.4" r="4.2" fill="#b03060"/>
<circle cx="1002.3" cy="1029.8" r="4.2" fill="#b03060"/>
<polyline points="687.3,640 688.7,658.5 691.2,681.4 697,707.8 709.4,739.5 731.4,777.4 763.1,815.3 808.5,855.2 851.6,886 909.8,924.8 942.9,946.6 972.9,960.2 1002.8,977.8 1014.3,988.9 1037.2,996.3" fill="none" stroke="#f00" stroke-width="2.3" stroke-dasharray="8.9 4.2" stroke-linecap="round" stroke-linejoin="round"/>
<polyline points="687.3,637.7 689.1,658.5 692.6,681.4 699.3,707.5 712.9,739.2 737.6,776.2 776.3,816.3 818.1,851.7 862.2,889 903.6,916.9 937.8,935.7 962.3,947.8 1015.2,969.9 1036.3,980.8 1045.1,990.1 1066.8,998.1" fill="none" stroke="#00f" stroke-width="2.3" stroke-linecap="round" stroke-linejoin="round"/>
<rect x="684" y="623.4" width="419" height="419.1" fill="none" stroke="#000" stroke-width="2.3"/>
<line x1="673.6" y1="623.4" x2="684" y2="623.4" stroke="#000" stroke-width="2.3" stroke-linecap="round"/>
<line x1="1103" y1="623.4" x2="1113.4" y2="623.4" stroke="#000" stroke-width="2.3" stroke-linecap="round"/>
<path d="M624.79 619.76 L624.79 619.1 L625.46 617.76 L626.12 617.1 L627.45 616.43 L630.12 616.43 L631.44 617.1 L632.11 617.76 L632.77 619.1 L632.77 620.42 L632.11 621.75 L630.78 623.75 L624.13 630.4 L633.44 630.4 M641.4 616.43 L639.4 617.1 L638.07 619.1 L637.41 622.42 L637.41 624.41 L638.07 627.74 L639.4 629.74 L641.4 630.4 L642.73 630.4 L644.73 629.74 L646.05 627.74 L646.72 624.41 L646.72 622.42 L646.05 619.1 L644.73 617.1 L642.73 616.43 L641.4 616.43 M654.68 616.43 L652.68 617.1 L651.36 619.1 L650.69 622.42 L650.69 624.41 L651.36 627.74 L652.68 629.74 L654.68 630.4 L656.01 630.4 L658 629.74 L659.34 627.74 L660 624.41 L660 622.42 L659.34 619.1 L658 617.1 L656.01 616.43 L654.68 616.43" fill="none" stroke="#000" stroke-width="1.35" stroke-linecap="round" stroke-linejoin="round"/>
<line x1="678.2" y1="648.8" x2="684" y2="648.8" stroke="#000" stroke-width="1.2" stroke-linecap="butt"/>
<line x1="1103" y1="648.8" x2="1108.8" y2="648.8" stroke="#000" stroke-width="1.2" stroke-linecap="butt"/>
<line x1="678.2" y1="674.2" x2="684" y2="674.2" stroke="#000" stroke-width="1.2" stroke-linecap="butt"/>
<line x1="1103" y1="674.2" x2="1108.8" y2="674.2" stroke="#000" stroke-width="1.2" stroke-linecap="butt"/>
<line x1="678.2" y1="699.6" x2="684" y2="699.6" stroke="#000" stroke-width="1.2" stroke-linecap="butt"/>
<line x1="1103" y1="699.6" x2="1108.8" y2="699.6" stroke="#000" stroke-width="1.2" stroke-linecap="butt"/>
<line x1="673.6" y1="725" x2="684" y2="725" stroke="#000" stroke-width="2.3" stroke-linecap="round"/>
<line x1="1103" y1="725" x2="1113.4" y2="725" stroke="#000" stroke-width="2.3" stroke-linecap="round"/>
<path d="M630.78 718.03 L624.13 727.35 L634.11 727.35 M630.78 718.03 L630.78 732 M641.4 718.03 L639.4 718.7 L638.07 720.7 L637.41 724.02 L637.41 726.01 L638.07 729.34 L639.4 731.34 L641.4 732 L642.73 732 L644.73 731.34 L646.05 729.34 L646.72 726.01 L646.72 724.02 L646.05 720.7 L644.73 718.7 L642.73 718.03 L641.4 718.03 M654.68 718.03 L652.68 718.7 L651.36 720.7 L650.69 724.02 L650.69 726.01 L651.36 729.34 L652.68 731.34 L654.68 732 L656.01 732 L658 731.34 L659.34 729.34 L660 726.01 L660 724.02 L659.34 720.7 L658 718.7 L656.01 718.03 L654.68 718.03" fill="none" stroke="#000" stroke-width="1.35" stroke-linecap="round" stroke-linejoin="round"/>
<line x1="678.2" y1="750.4" x2="684" y2="750.4" stroke="#000" stroke-width="1.2" stroke-linecap="butt"/>
<line x1="1103" y1="750.4" x2="1108.8" y2="750.4" stroke="#000" stroke-width="1.2" stroke-linecap="butt"/>
<line x1="678.2" y1="775.8" x2="684" y2="775.8" stroke="#000" stroke-width="1.2" stroke-linecap="butt"/>
<line x1="1103" y1="775.8" x2="1108.8" y2="775.8" stroke="#000" stroke-width="1.2" stroke-linecap="butt"/>
<line x1="678.2" y1="801.2" x2="684" y2="801.2" stroke="#000" stroke-width="1.2" stroke-linecap="butt"/>
<line x1="1103" y1="801.2" x2="1108.8" y2="801.2" stroke="#000" stroke-width="1.2" stroke-linecap="butt"/>
<line x1="673.6" y1="826.6" x2="684" y2="826.6" stroke="#000" stroke-width="2.3" stroke-linecap="round"/>
<line x1="1103" y1="826.6" x2="1113.4" y2="826.6" stroke="#000" stroke-width="2.3" stroke-linecap="round"/>
<path d="M632.77 821.63 L632.11 820.3 L630.12 819.63 L628.78 819.63 L626.79 820.3 L625.46 822.29 L624.79 825.62 L624.79 828.94 L625.46 831.6 L626.79 832.93 L628.78 833.6 L629.45 833.6 L631.44 832.93 L632.77 831.6 L633.44 829.61 L633.44 828.94 L632.77 826.95 L631.44 825.62 L629.45 824.95 L628.78 824.95 L626.79 825.62 L625.46 826.95 L624.79 828.94 M641.4 819.63 L639.4 820.3 L638.07 822.29 L637.41 825.62 L637.41 827.61 L638.07 830.94 L639.4 832.93 L641.4 833.6 L642.73 833.6 L644.73 832.93 L646.05 830.94 L646.72 827.61 L646.72 825.62 L646.05 822.29 L644.73 820.3 L642.73 819.63 L641.4 819.63 M654.68 819.63 L652.68 820.3 L651.36 822.29 L650.69 825.62 L650.69 827.61 L651.36 830.94 L652.68 832.93 L654.68 833.6 L656.01 833.6 L658 832.93 L659.34 830.94 L660 827.61 L660 825.62 L659.34 822.29 L658 820.3 L656.01 819.63 L654.68 819.63" fill="none" stroke="#000" stroke-width="1.35" stroke-linecap="round" stroke-linejoin="round"/>
<line x1="678.2" y1="852" x2="684" y2="852" stroke="#000" stroke-width="1.2" stroke-linecap="butt"/>
<line x1="1103" y1="852" x2="1108.8" y2="852" stroke="#000" stroke-width="1.2" stroke-linecap="butt"/>
<line x1="678.2" y1="877.4" x2="684" y2="877.4" stroke="#000" stroke-width="1.2" stroke-linecap="butt"/>
<line x1="1103" y1="877.4" x2="1108.8" y2="877.4" stroke="#000" stroke-width="1.2" stroke-linecap="butt"/>
<line x1="678.2" y1="902.8" x2="684" y2="902.8" stroke="#000" stroke-width="1.2" stroke-linecap="butt"/>
<line x1="1103" y1="902.8" x2="1108.8" y2="902.8" stroke="#000" stroke-width="1.2" stroke-linecap="butt"/>
<line x1="673.6" y1="928.2" x2="684" y2="928.2" stroke="#000" stroke-width="2.3" stroke-linecap="round"/>
<line x1="1103" y1="928.2" x2="1113.4" y2="928.2" stroke="#000" stroke-width="2.3" stroke-linecap="round"/>
<path d="M627.45 921.24 L625.46 921.9 L624.79 923.23 L624.79 924.56 L625.46 925.89 L626.79 926.56 L629.45 927.22 L631.44 927.88 L632.77 929.22 L633.44 930.55 L633.44 932.54 L632.77 933.87 L632.11 934.54 L630.12 935.2 L627.45 935.2 L625.46 934.54 L624.79 933.87 L624.13 932.54 L624.13 930.55 L624.79 929.22 L626.12 927.88 L628.12 927.22 L630.78 926.56 L632.11 925.89 L632.77 924.56 L632.77 923.23 L632.11 921.9 L630.12 921.24 L627.45 921.24 M641.4 921.24 L639.4 921.9 L638.07 923.9 L637.41 927.22 L637.41 929.22 L638.07 932.54 L639.4 934.54 L641.4 935.2 L642.73 935.2 L644.73 934.54 L646.05 932.54 L646.72 929.22 L646.72 927.22 L646.05 923.9 L644.73 921.9 L642.73 921.24 L641.4 921.24 M654.68 921.24 L652.68 921.9 L651.36 923.9 L650.69 927.22 L650.69 929.22 L651.36 932.54 L652.68 934.54 L654.68 935.2 L656.01 935.2 L658 934.54 L659.34 932.54 L660 929.22 L660 927.22 L659.34 923.9 L658 921.9 L656.01 921.24 L654.68 921.24" fill="none" stroke="#000" stroke-width="1.35" stroke-linecap="round" stroke-linejoin="round"/>
<line x1="678.2" y1="953.6" x2="684" y2="953.6" stroke="#000" stroke-width="1.2" stroke-linecap="butt"/>
<line x1="1103" y1="953.6" x2="1108.8" y2="953.6" stroke="#000" stroke-width="1.2" stroke-linecap="butt"/>
<line x1="678.2" y1="979" x2="684" y2="979" stroke="#000" stroke-width="1.2" stroke-linecap="butt"/>
<line x1="1103" y1="979" x2="1108.8" y2="979" stroke="#000" stroke-width="1.2" stroke-linecap="butt"/>
<line x1="678.2" y1="1004.4" x2="684" y2="1004.4" stroke="#000" stroke-width="1.2" stroke-linecap="butt"/>
<line x1="1103" y1="1004.4" x2="1108.8" y2="1004.4" stroke="#000" stroke-width="1.2" stroke-linecap="butt"/>
<line x1="673.6" y1="1029.8" x2="684" y2="1029.8" stroke="#000" stroke-width="2.3" stroke-linecap="round"/>
<line x1="1103" y1="1029.8" x2="1113.4" y2="1029.8" stroke="#000" stroke-width="2.3" stroke-linecap="round"/>
<path d="M612.85 1025.49 L614.17 1024.83 L616.17 1022.83 L616.17 1036.8 M628.12 1022.83 L626.12 1023.5 L624.79 1025.49 L624.13 1028.82 L624.13 1030.82 L624.79 1034.14 L626.12 1036.13 L628.12 1036.8 L629.45 1036.8 L631.45 1036.13 L632.77 1034.14 L633.44 1030.82 L633.44 1028.82 L632.77 1025.49 L631.45 1023.5 L629.45 1022.83 L628.12 1022.83 M641.4 1022.83 L639.4 1023.5 L638.08 1025.49 L637.41 1028.82 L637.41 1030.82 L638.08 1034.14 L639.4 1036.13 L641.4 1036.8 L642.73 1036.8 L644.73 1036.13 L646.06 1034.14 L646.72 1030.82 L646.72 1028.82 L646.06 1025.49 L644.73 1023.5 L642.73 1022.83 L641.4 1022.83 M654.68 1022.83 L652.69 1023.5 L651.36 1025.49 L650.69 1028.82 L650.69 1030.82 L651.36 1034.14 L652.69 1036.13 L654.68 1036.8 L656.01 1036.8 L658 1036.13 L659.34 1034.14 L660 1030.82 L660 1028.82 L659.34 1025.49 L658 1023.5 L656.01 1022.83 L654.68 1022.83" fill="none" stroke="#000" stroke-width="1.35" stroke-linecap="round" stroke-linejoin="round"/>
<line x1="684" y1="613" x2="684" y2="623.4" stroke="#000" stroke-width="2.3" stroke-linecap="round"/>
<line x1="684" y1="1042.5" x2="684" y2="1052.9" stroke="#000" stroke-width="2.3" stroke-linecap="round"/>
<path d="M673.38 1066.69 L671.38 1067.35 L670.05 1069.35 L669.38 1072.67 L669.38 1074.67 L670.05 1077.99 L671.38 1079.99 L673.38 1080.65 L674.7 1080.65 L676.7 1079.99 L678.03 1077.99 L678.69 1074.67 L678.69 1072.67 L678.03 1069.35 L676.7 1067.35 L674.7 1066.69 L673.38 1066.69 M684 1079.32 L683.34 1079.99 L684 1080.65 L684.66 1079.99 L684 1079.32 M693.29 1066.69 L691.3 1067.35 L689.97 1069.35 L689.3 1072.67 L689.3 1074.67 L689.97 1077.99 L691.3 1079.99 L693.29 1080.65 L694.62 1080.65 L696.62 1079.99 L697.95 1077.99 L698.62 1074.67 L698.62 1072.67 L697.95 1069.35 L696.62 1067.35 L694.62 1066.69 L693.29 1066.69" fill="none" stroke="#000" stroke-width="1.35" stroke-linecap="round" stroke-linejoin="round"/>
<line x1="707.28" y1="617.6" x2="707.28" y2="623.4" stroke="#000" stroke-width="1.2" stroke-linecap="butt"/>
<line x1="707.28" y1="1042.5" x2="707.28" y2="1048.3" stroke="#000" stroke-width="1.2" stroke-linecap="butt"/>
<line x1="730.56" y1="617.6" x2="730.56" y2="623.4" stroke="#000" stroke-width="1.2" stroke-linecap="butt"/>
<line x1="730.56" y1="1042.5" x2="730.56" y2="1048.3" stroke="#000" stroke-width="1.2" stroke-linecap="butt"/>
<line x1="753.83" y1="613" x2="753.83" y2="623.4" stroke="#000" stroke-width="2.3" stroke-linecap="round"/>
<line x1="753.83" y1="1042.5" x2="753.83" y2="1052.9" stroke="#000" stroke-width="2.3" stroke-linecap="round"/>
<path d="M743.21 1066.69 L741.21 1067.35 L739.88 1069.35 L739.22 1072.67 L739.22 1074.67 L739.88 1077.99 L741.21 1079.99 L743.21 1080.65 L744.54 1080.65 L746.53 1079.99 L747.86 1077.99 L748.53 1074.67 L748.53 1072.67 L747.86 1069.35 L746.53 1067.35 L744.54 1066.69 L743.21 1066.69 M753.83 1079.32 L753.17 1079.99 L753.83 1080.65 L754.5 1079.99 L753.83 1079.32 M760.47 1066.69 L767.78 1066.69 L763.79 1072.01 L765.79 1072.01 L767.12 1072.67 L767.78 1073.34 L768.45 1075.33 L768.45 1076.66 L767.78 1078.66 L766.45 1079.99 L764.46 1080.65 L762.46 1080.65 L760.47 1079.99 L759.8 1079.32 L759.14 1077.99" fill="none" stroke="#000" stroke-width="1.35" stroke-linecap="round" stroke-linejoin="round"/>
<line x1="777.11" y1="617.6" x2="777.11" y2="623.4" stroke="#000" stroke-width="1.2" stroke-linecap="butt"/>
<line x1="777.11" y1="1042.5" x2="777.11" y2="1048.3" stroke="#000" stroke-width="1.2" stroke-linecap="butt"/>
<line x1="800.39" y1="617.6" x2="800.39" y2="623.4" stroke="#000" stroke-width="1.2" stroke-linecap="butt"/>
<line x1="800.39" y1="1042.5" x2="800.39" y2="1048.3" stroke="#000" stroke-width="1.2" stroke-linecap="butt"/>
<line x1="823.67" y1="613" x2="823.67" y2="623.4" stroke="#000" stroke-width="2.3" stroke-linecap="round"/>
<line x1="823.67" y1="1042.5" x2="823.67" y2="1052.9" stroke="#000" stroke-width="2.3" stroke-linecap="round"/>
<path d="M813.04 1066.69 L811.05 1067.35 L809.72 1069.35 L809.05 1072.67 L809.05 1074.67 L809.72 1077.99 L811.05 1079.99 L813.04 1080.65 L814.37 1080.65 L816.37 1079.99 L817.7 1077.99 L818.36 1074.67 L818.36 1072.67 L817.7 1069.35 L816.37 1067.35 L814.37 1066.69 L813.04 1066.69 M823.67 1079.32 L823 1079.99 L823.67 1080.65 L824.33 1079.99 L823.67 1079.32 M837.62 1068.68 L836.95 1067.35 L834.96 1066.69 L833.63 1066.69 L831.63 1067.35 L830.3 1069.35 L829.64 1072.67 L829.64 1076 L830.3 1078.66 L831.63 1079.99 L833.63 1080.65 L834.29 1080.65 L836.29 1079.99 L837.62 1078.66 L838.28 1076.66 L838.28 1076 L837.62 1074 L836.29 1072.67 L834.29 1072.01 L833.63 1072.01 L831.63 1072.67 L830.3 1074 L829.64 1076" fill="none" stroke="#000" stroke-width="1.35" stroke-linecap="round" stroke-linejoin="round"/>
<line x1="846.94" y1="617.6" x2="846.94" y2="623.4" stroke="#000" stroke-width="1.2" stroke-linecap="butt"/>
<line x1="846.94" y1="1042.5" x2="846.94" y2="1048.3" stroke="#000" stroke-width="1.2" stroke-linecap="butt"/>
<line x1="870.22" y1="617.6" x2="870.22" y2="623.4" stroke="#000" stroke-width="1.2" stroke-linecap="butt"/>
<line x1="870.22" y1="1042.5" x2="870.22" y2="1048.3" stroke="#000" stroke-width="1.2" stroke-linecap="butt"/>
<line x1="893.5" y1="613" x2="893.5" y2="623.4" stroke="#000" stroke-width="2.3" stroke-linecap="round"/>
<line x1="893.5" y1="1042.5" x2="893.5" y2="1052.9" stroke="#000" stroke-width="2.3" stroke-linecap="round"/>
<path d="M883.21 1066.69 L881.21 1067.35 L879.88 1069.35 L879.22 1072.67 L879.22 1074.67 L879.88 1077.99 L881.21 1079.99 L883.21 1080.65 L884.54 1080.65 L886.53 1079.99 L887.86 1077.99 L888.53 1074.67 L888.53 1072.67 L887.86 1069.35 L886.53 1067.35 L884.54 1066.69 L883.21 1066.69 M893.83 1079.32 L893.17 1079.99 L893.83 1080.65 L894.5 1079.99 L893.83 1079.32 M907.78 1071.34 L907.12 1073.34 L905.79 1074.67 L903.79 1075.33 L903.13 1075.33 L901.13 1074.67 L899.8 1073.34 L899.14 1071.34 L899.14 1070.68 L899.8 1068.68 L901.13 1067.35 L903.13 1066.69 L903.79 1066.69 L905.79 1067.35 L907.12 1068.68 L907.78 1071.34 L907.78 1074.67 L907.12 1077.99 L905.79 1079.99 L903.79 1080.65 L902.46 1080.65 L900.47 1079.99 L899.8 1078.66" fill="none" stroke="#000" stroke-width="1.35" stroke-linecap="round" stroke-linejoin="round"/>
<line x1="916.78" y1="617.6" x2="916.78" y2="623.4" stroke="#000" stroke-width="1.2" stroke-linecap="butt"/>
<line x1="916.78" y1="1042.5" x2="916.78" y2="1048.3" stroke="#000" stroke-width="1.2" stroke-linecap="butt"/>
<line x1="940.06" y1="617.6" x2="940.06" y2="623.4" stroke="#000" stroke-width="1.2" stroke-linecap="butt"/>
<line x1="940.06" y1="1042.5" x2="940.06" y2="1048.3" stroke="#000" stroke-width="1.2" stroke-linecap="butt"/>
<line x1="963.33" y1="613" x2="963.33" y2="623.4" stroke="#000" stroke-width="2.3" stroke-linecap="round"/>
<line x1="963.33" y1="1042.5" x2="963.33" y2="1052.9" stroke="#000" stroke-width="2.3" stroke-linecap="round"/>
<path d="M949.72 1069.35 L951.05 1068.68 L953.04 1066.69 L953.04 1080.65 M962.34 1079.32 L961.67 1079.99 L962.34 1080.65 L963 1079.99 L962.34 1079.32 M968.31 1070.01 L968.31 1069.35 L968.97 1068.02 L969.64 1067.35 L970.97 1066.69 L973.63 1066.69 L974.96 1067.35 L975.62 1068.02 L976.29 1069.35 L976.29 1070.68 L975.62 1072.01 L974.29 1074 L967.64 1080.65 L976.95 1080.65" fill="none" stroke="#000" stroke-width="1.35" stroke-linecap="round" stroke-linejoin="round"/>
<line x1="986.61" y1="617.6" x2="986.61" y2="623.4" stroke="#000" stroke-width="1.2" stroke-linecap="butt"/>
<line x1="986.61" y1="1042.5" x2="986.61" y2="1048.3" stroke="#000" stroke-width="1.2" stroke-linecap="butt"/>
<line x1="1009.89" y1="617.6" x2="1009.89" y2="623.4" stroke="#000" stroke-width="1.2" stroke-linecap="butt"/>
<line x1="1009.89" y1="1042.5" x2="1009.89" y2="1048.3" stroke="#000" stroke-width="1.2" stroke-linecap="butt"/>
<line x1="1033.17" y1="613" x2="1033.17" y2="623.4" stroke="#000" stroke-width="2.3" stroke-linecap="round"/>
<line x1="1033.17" y1="1042.5" x2="1033.17" y2="1052.9" stroke="#000" stroke-width="2.3" stroke-linecap="round"/>
<path d="M1019.55 1069.35 L1020.88 1068.68 L1022.87 1066.69 L1022.87 1080.65 M1032.17 1079.32 L1031.5 1079.99 L1032.17 1080.65 L1032.83 1079.99 L1032.17 1079.32 M1045.45 1066.69 L1038.8 1066.69 L1038.14 1072.67 L1038.8 1072.01 L1040.8 1071.34 L1042.79 1071.34 L1044.79 1072.01 L1046.12 1073.34 L1046.78 1075.33 L1046.78 1076.66 L1046.12 1078.66 L1044.79 1079.99 L1042.79 1080.65 L1040.8 1080.65 L1038.8 1079.99 L1038.14 1079.32 L1037.47 1077.99" fill="none" stroke="#000" stroke-width="1.35" stroke-linecap="round" stroke-linejoin="round"/>
<line x1="1056.44" y1="617.6" x2="1056.44" y2="623.4" stroke="#000" stroke-width="1.2" stroke-linecap="butt"/>
<line x1="1056.44" y1="1042.5" x2="1056.44" y2="1048.3" stroke="#000" stroke-width="1.2" stroke-linecap="butt"/>
<line x1="1079.72" y1="617.6" x2="1079.72" y2="623.4" stroke="#000" stroke-width="1.2" stroke-linecap="butt"/>
<line x1="1079.72" y1="1042.5" x2="1079.72" y2="1048.3" stroke="#000" stroke-width="1.2" stroke-linecap="butt"/>
<line x1="1103" y1="613" x2="1103" y2="623.4" stroke="#000" stroke-width="2.3" stroke-linecap="round"/>
<line x1="1103" y1="1042.5" x2="1103" y2="1052.9" stroke="#000" stroke-width="2.3" stroke-linecap="round"/>
<path d="M1089.38 1069.35 L1090.71 1068.68 L1092.71 1066.69 L1092.71 1080.65 M1102 1079.32 L1101.34 1079.99 L1102 1080.65 L1102.67 1079.99 L1102 1079.32 M1110.63 1066.69 L1108.64 1067.35 L1107.97 1068.68 L1107.97 1070.01 L1108.64 1071.34 L1109.97 1072.01 L1112.63 1072.67 L1114.62 1073.34 L1115.95 1074.67 L1116.62 1076 L1116.62 1077.99 L1115.95 1079.32 L1115.29 1079.99 L1113.29 1080.65 L1110.63 1080.65 L1108.64 1079.99 L1107.97 1079.32 L1107.31 1077.99 L1107.31 1076 L1107.97 1074.67 L1109.3 1073.34 L1111.3 1072.67 L1113.96 1072.01 L1115.29 1071.34 L1115.95 1070.01 L1115.95 1068.68 L1115.29 1067.35 L1113.29 1066.69 L1110.63 1066.69" fill="none" stroke="#000" stroke-width="1.35" stroke-linecap="round" stroke-linejoin="round"/>
<path d="M687.54 595.2 L686.1 595.92 L684.65 597.37 L683.92 598.82 L683.2 600.99 L683.2 604.61 L683.92 606.78 L684.65 608.23 L686.1 609.68 L687.54 610.4 L690.44 610.4 L691.89 609.68 L693.34 608.23 L694.06 606.78 L694.78 604.61 L694.78 600.99 L694.06 598.82 L693.34 597.37 L691.89 595.92 L690.44 595.2 L687.54 595.2 M710.22 598.82 L709.5 597.37 L708.05 595.92 L706.6 595.2 L703.71 595.2 L702.26 595.92 L700.81 597.37 L700.09 598.82 L699.36 600.99 L699.36 604.61 L700.09 606.78 L700.81 608.23 L702.26 609.68 L703.71 610.4 L706.6 610.4 L708.05 609.68 L709.5 608.23 L710.22 606.78 M718.39 595.2 L718.39 610.4 M713.32 595.2 L723.46 595.2" fill="none" stroke="#000" stroke-width="1.45" stroke-linecap="round" stroke-linejoin="round"/>
<path d="M745.21 1099.51 L743.5 1097.8 L740.93 1096.95 L737.51 1096.95 L734.95 1097.8 L733.24 1099.51 L733.24 1101.22 L734.09 1102.93 L734.95 1103.79 L736.66 1104.64 L741.79 1106.35 L743.5 1107.21 L744.35 1108.06 L745.21 1109.77 L745.21 1112.34 L743.5 1114.05 L740.93 1114.9 L737.51 1114.9 L734.95 1114.05 L733.24 1112.34 M750.76 1102.93 L750.76 1120.88 M750.76 1105.5 L752.47 1103.79 L754.18 1102.93 L756.75 1102.93 L758.46 1103.79 L760.17 1105.5 L761.02 1108.06 L761.02 1109.77 L760.17 1112.34 L758.46 1114.05 L756.75 1114.9 L754.18 1114.9 L752.47 1114.05 L750.76 1112.34 M765.75 1108.06 L776.01 1108.06 L776.01 1106.35 L775.15 1104.64 L774.3 1103.79 L772.59 1102.93 L770.02 1102.93 L768.31 1103.79 L766.6 1105.5 L765.75 1108.06 L765.75 1109.77 L766.6 1112.34 L768.31 1114.05 L770.02 1114.9 L772.59 1114.9 L774.3 1114.05 L776.01 1112.34 M791 1105.5 L789.29 1103.79 L787.58 1102.93 L785.02 1102.93 L783.31 1103.79 L781.6 1105.5 L780.74 1108.06 L780.74 1109.77 L781.6 1112.34 L783.31 1114.05 L785.02 1114.9 L787.58 1114.9 L789.29 1114.05 L791 1112.34 M795.84 1096.95 L796.7 1097.8 L797.55 1096.95 L796.7 1096.09 L795.84 1096.95 M796.7 1102.93 L796.7 1114.9 M808.45 1096.95 L806.74 1096.95 L805.03 1097.8 L804.17 1100.37 L804.17 1114.9 M801.61 1102.93 L807.59 1102.93 M812.5 1096.95 L813.36 1097.8 L814.21 1096.95 L813.36 1096.09 L812.5 1096.95 M813.36 1102.93 L813.36 1114.9 M829.32 1105.5 L827.61 1103.79 L825.9 1102.93 L823.33 1102.93 L821.62 1103.79 L819.91 1105.5 L819.06 1108.06 L819.06 1109.77 L819.91 1112.34 L821.62 1114.05 L823.33 1114.9 L825.9 1114.9 L827.61 1114.05 L829.32 1112.34 M848.19 1096.95 L848.19 1114.9 M860.16 1096.95 L860.16 1114.9 M848.19 1105.5 L860.16 1105.5 M866.55 1102.93 L866.55 1111.48 L867.41 1114.05 L869.12 1114.9 L871.68 1114.9 L873.39 1114.05 L875.96 1111.48 M875.96 1102.93 L875.96 1114.9 M882.26 1102.93 L882.26 1114.9 M882.26 1106.35 L884.82 1103.79 L886.53 1102.93 L889.1 1102.93 L890.81 1103.79 L891.66 1106.35 L891.66 1114.9 M891.66 1106.35 L894.23 1103.79 L895.94 1102.93 L898.5 1102.93 L900.21 1103.79 L901.07 1106.35 L901.07 1114.9 M906.63 1096.95 L907.49 1097.8 L908.34 1096.95 L907.49 1096.09 L906.63 1096.95 M907.49 1102.93 L907.49 1114.9 M923.44 1096.95 L923.44 1114.9 M923.44 1105.5 L921.73 1103.79 L920.02 1102.93 L917.45 1102.93 L915.74 1103.79 L914.03 1105.5 L913.18 1108.06 L913.18 1109.77 L914.03 1112.34 L915.74 1114.05 L917.45 1114.9 L920.02 1114.9 L921.73 1114.05 L923.44 1112.34 M929.12 1096.95 L929.98 1097.8 L930.83 1096.95 L929.98 1096.09 L929.12 1096.95 M929.98 1102.93 L929.98 1114.9 M937.45 1096.95 L937.45 1111.48 L938.31 1114.05 L940.02 1114.9 L941.73 1114.9 M934.89 1102.93 L940.87 1102.93 M944.84 1102.93 L949.97 1114.9 M955.1 1102.93 L949.97 1114.9 L948.26 1118.32 L946.55 1120.03 L944.84 1120.88 L943.99 1120.88 M979.21 1093.53 L977.5 1095.24 L975.79 1097.8 L974.08 1101.22 L973.23 1105.5 L973.23 1108.92 L974.08 1113.19 L975.79 1116.61 L977.5 1119.18 L979.21 1120.88 M994.24 1102.93 L994.24 1116.61 L993.39 1119.18 L992.53 1120.03 L990.82 1120.88 L988.26 1120.88 L986.55 1120.03 M994.24 1105.5 L992.53 1103.79 L990.82 1102.93 L988.26 1102.93 L986.55 1103.79 L984.84 1105.5 L983.98 1108.06 L983.98 1109.77 L984.84 1112.34 L986.55 1114.05 L988.26 1114.9 L990.82 1114.9 L992.53 1114.05 L994.24 1112.34 M1014.31 1093.53 L998.92 1120.88 M1019.01 1096.95 L1019.01 1114.9 M1027.56 1102.93 L1019.01 1111.48 M1022.43 1108.06 L1028.42 1114.9 M1042.56 1102.93 L1042.56 1116.61 L1041.7 1119.18 L1040.85 1120.03 L1039.14 1120.88 L1036.57 1120.88 L1034.86 1120.03 M1042.56 1105.5 L1040.85 1103.79 L1039.14 1102.93 L1036.57 1102.93 L1034.86 1103.79 L1033.15 1105.5 L1032.3 1108.06 L1032.3 1109.77 L1033.15 1112.34 L1034.86 1114.05 L1036.57 1114.9 L1039.14 1114.9 L1040.85 1114.05 L1042.56 1112.34 M1048.18 1093.53 L1049.89 1095.24 L1051.6 1097.8 L1053.31 1101.22 L1054.16 1105.5 L1054.16 1108.92 L1053.31 1113.19 L1051.6 1116.61 L1049.89 1119.18 L1048.18 1120.88" fill="none" stroke="#000" stroke-width="1.5" stroke-linecap="round" stroke-linejoin="round"/>
</g></svg>
</body></html>
